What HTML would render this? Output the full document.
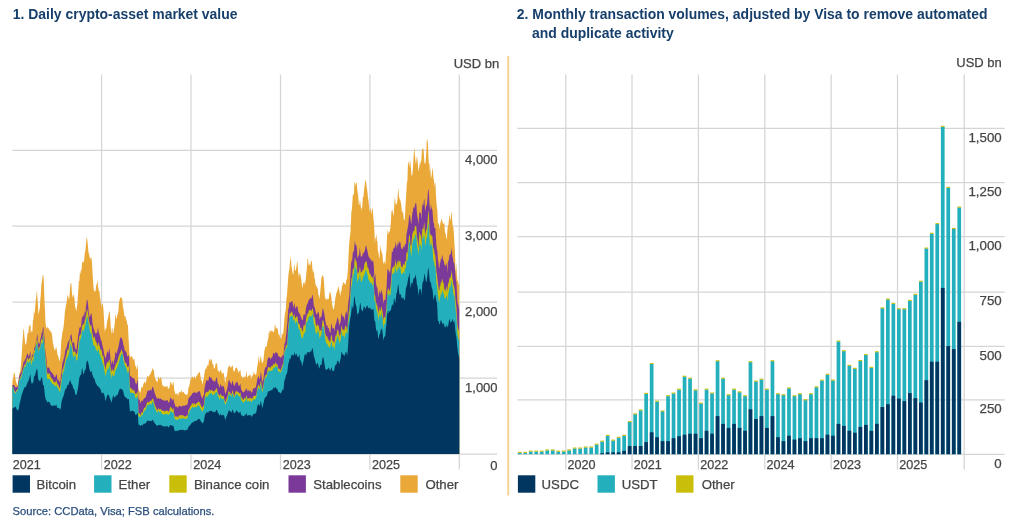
<!DOCTYPE html>
<html><head><meta charset="utf-8"><title>Crypto-asset market value and stablecoin transaction volumes</title>
<style>
html,body{margin:0;padding:0;background:#fff;}
body{width:1024px;height:521px;overflow:hidden;}
svg{display:block;font-family:"Liberation Sans",Arial,Helvetica,sans-serif;}
</style></head><body>
<svg width="1024" height="521" viewBox="0 0 1024 521">
<line x1="101.6" y1="74.5" x2="101.6" y2="469.5" stroke="#d5d5d5" stroke-width="1.25"/>
<line x1="191.0" y1="74.5" x2="191.0" y2="469.5" stroke="#d5d5d5" stroke-width="1.25"/>
<line x1="280.5" y1="74.5" x2="280.5" y2="469.5" stroke="#d5d5d5" stroke-width="1.25"/>
<line x1="369.9" y1="74.5" x2="369.9" y2="469.5" stroke="#d5d5d5" stroke-width="1.25"/>
<line x1="459.3" y1="74.5" x2="459.3" y2="469.5" stroke="#d5d5d5" stroke-width="1.25"/>
<line x1="12.4" y1="150.3" x2="497" y2="150.3" stroke="#d5d5d5" stroke-width="1.25"/>
<line x1="12.4" y1="226.2" x2="497" y2="226.2" stroke="#d5d5d5" stroke-width="1.25"/>
<line x1="12.4" y1="302.2" x2="497" y2="302.2" stroke="#d5d5d5" stroke-width="1.25"/>
<line x1="12.4" y1="378.2" x2="497" y2="378.2" stroke="#d5d5d5" stroke-width="1.25"/>
<line x1="12.4" y1="454.1" x2="497" y2="454.1" stroke="#d5d5d5" stroke-width="1.25"/>
<path d="M12.4 454L12.4 380.7L12.9 379.6L13.4 377.5L13.9 372.6L14.4 373.1L14.9 374.6L15.4 378.7L15.9 381.6L16.4 382.6L16.9 384.4L17.4 385.4L17.9 383.6L18.4 380.5L18.9 377.2L19.4 373.8L19.9 372.3L20.4 370.2L20.9 364.5L21.4 359.2L21.9 352.1L22.4 343.9L22.9 336.5L23.4 329.3L23.9 329.2L24.4 336L24.9 340.9L25.4 344.9L25.9 344.3L26.4 342.9L26.9 338.5L27.4 334.1L27.9 332.6L28.4 333.6L28.9 326.2L29.4 326.1L29.9 325.1L30.4 324.3L30.9 333.6L31.4 329.9L31.9 332.5L32.4 331.2L32.9 320.5L33.4 319.4L33.9 310.3L34.4 314.7L34.9 310.8L35.4 304.8L35.9 298.9L36.4 295.3L36.9 290L37.4 297.4L37.9 303.8L38.4 314.3L38.9 312.6L39.4 310.2L39.9 306.9L40.4 298.9L40.9 292.9L41.4 284.8L41.9 281L42.4 278.1L42.9 275.1L43.4 275L43.9 283.6L44.4 299L44.9 308.7L45.4 321L45.9 325.9L46.4 327.9L46.9 328.6L47.4 326.6L47.9 327.7L48.4 328.8L48.9 328.2L49.4 330.1L49.9 330.9L50.4 332.4L50.9 329.9L51.4 332.8L51.9 333.9L52.4 338.1L52.9 343.2L53.4 344.6L53.9 348.1L54.4 348.9L54.9 350.7L55.4 350L55.9 346.9L56.4 347.5L56.9 350.4L57.4 354.2L57.9 355.3L58.4 356.9L58.9 359.3L59.4 361L59.9 360.2L60.4 356.1L60.9 348.4L61.4 339.6L61.9 337L62.4 331.4L62.9 331L63.4 327.9L63.9 323.6L64.4 318.2L64.9 311.6L65.4 308.9L65.9 305.8L66.4 303.4L66.9 299.8L67.4 295.4L67.9 295.2L68.4 297.3L68.9 300.6L69.4 297.2L69.9 290.8L70.4 285.1L70.9 282.4L71.4 283.8L71.9 292.5L72.4 298L72.9 295.8L73.4 293.7L73.9 296.6L74.4 298L74.9 304.5L75.4 307.8L75.9 309.2L76.4 311.7L76.9 306.7L77.4 303.8L77.9 295.9L78.4 288.7L78.9 280.8L79.4 280.9L79.9 272.5L80.4 274.2L80.9 269.7L81.4 271.5L81.9 264.9L82.4 260.5L82.9 262.7L83.4 262.4L83.9 261.6L84.4 257.6L84.9 252L85.4 251L85.9 244.4L86.4 239L86.9 237.6L87.4 241.1L87.9 246L88.4 252L88.9 253.7L89.4 255.7L89.9 257.9L90.4 257.9L90.9 259.5L91.4 256.7L91.9 261.8L92.4 269.5L92.9 278.5L93.4 286.5L93.9 290.1L94.4 291.3L94.9 291.8L95.4 291.3L95.9 288.3L96.4 284.6L96.9 283.9L97.4 279.6L97.9 285.1L98.4 289.3L98.9 290.9L99.4 291.1L99.9 296.6L100.4 299.6L100.9 303.6L101.4 307.8L101.9 304.5L102.4 303L102.9 305.1L103.4 308.8L103.9 317.1L104.4 326.8L104.9 332.3L105.4 328.4L105.9 329L106.4 327.6L106.9 323.1L107.4 320.5L107.9 318.3L108.4 316L108.9 313.1L109.4 310.8L109.9 313.6L110.4 321.5L110.9 329.6L111.4 334.6L111.9 328.1L112.4 328.5L112.9 333.3L113.4 333.6L113.9 328.7L114.4 325.9L114.9 322L115.4 314.7L115.9 315.6L116.4 319.6L116.9 317.3L117.4 314.8L117.9 313.5L118.4 310.9L118.9 303.3L119.4 300.8L119.9 298.7L120.4 297.8L120.9 296.9L121.4 297.9L121.9 298L122.4 300.5L122.9 306.7L123.4 308.4L123.9 312.3L124.4 316.4L124.9 316L125.4 316.2L125.9 318.9L126.4 319.7L126.9 322L127.4 325.2L127.9 324.3L128.4 335.7L128.9 343.7L129.4 352.7L129.9 357.6L130.4 357.4L130.9 356L131.4 355.9L131.9 356.5L132.4 357.1L132.9 359.5L133.4 359.8L133.9 358.6L134.4 359L134.9 363.2L135.4 366.9L135.9 365.3L136.4 369.8L136.9 368.7L137.4 364.2L137.9 367.8L138.4 388.8L138.9 390.5L139.4 390.9L139.9 392L140.4 393L140.9 389.5L141.4 386.9L141.9 386.9L142.4 387.7L142.9 386.3L143.4 384.3L143.9 382.9L144.4 380.9L144.9 383L145.4 383.4L145.9 381.9L146.4 379.8L146.9 377.4L147.4 375.4L147.9 376.2L148.4 377L148.9 376.6L149.4 375.6L149.9 374.5L150.4 373.6L150.9 373.6L151.4 371.1L151.9 370.7L152.4 368.2L152.9 368.4L153.4 369.7L153.9 371.1L154.4 375.4L154.9 377.7L155.4 379.1L155.9 380.2L156.4 380.8L156.9 381.7L157.4 382.5L157.9 379.6L158.4 375.7L158.9 378.3L159.4 379.1L159.9 378.9L160.4 376.7L160.9 377.9L161.4 378.6L161.9 383L162.4 385.5L162.9 385.4L163.4 385.7L163.9 387.1L164.4 386.3L164.9 386.7L165.4 386.4L165.9 386.6L166.4 386.5L166.9 386.3L167.4 386.1L167.9 388.5L168.4 389.3L168.9 387.7L169.4 387.7L169.9 385.1L170.4 381.6L170.9 382.3L171.4 383.3L171.9 385.3L172.4 385.4L172.9 382.2L173.4 381.4L173.9 385.4L174.4 391L174.9 391.7L175.4 394.5L175.9 394.1L176.4 393.7L176.9 393.5L177.4 393.3L177.9 396L178.4 395.1L178.9 392.1L179.4 392L179.9 392.9L180.4 392.3L180.9 391.2L181.4 389.8L181.9 392.1L182.4 392.5L182.9 392.5L183.4 391.8L183.9 392.1L184.4 393.8L184.9 394L185.4 394.3L185.9 395.1L186.4 394.7L186.9 394.2L187.4 395.5L187.9 392.2L188.4 388.1L188.9 386.8L189.4 385.4L189.9 383.3L190.4 379.9L190.9 379.2L191.4 377.1L191.9 378L192.4 376.5L192.9 377.1L193.4 378.5L193.9 377.1L194.4 375.7L194.9 377.8L195.4 379L195.9 377.8L196.4 375.5L196.9 375.9L197.4 375L197.9 373.4L198.4 373.2L198.9 373.1L199.4 372.1L199.9 372.1L200.4 375.4L200.9 378.9L201.4 380.8L201.9 380.8L202.4 384.8L202.9 382.6L203.4 379.4L203.9 378.4L204.4 373.3L204.9 370.9L205.4 369.1L205.9 368.3L206.4 368.7L206.9 366.3L207.4 364.5L207.9 366.4L208.4 365.3L208.9 361.3L209.4 359.3L209.9 359.1L210.4 362.3L210.9 359.1L211.4 359.3L211.9 360.2L212.4 364.3L212.9 364.1L213.4 364.9L213.9 368.8L214.4 368.4L214.9 367.9L215.4 365.1L215.9 362.9L216.4 363.9L216.9 362.6L217.4 367.5L217.9 371.2L218.4 370.2L218.9 371.8L219.4 371.4L219.9 372.3L220.4 370L220.9 369.6L221.4 372.1L221.9 373.5L222.4 373.8L222.9 372.4L223.4 372.6L223.9 374.4L224.4 377.7L224.9 381.1L225.4 383.5L225.9 378L226.4 377.3L226.9 375.9L227.4 372L227.9 368.1L228.4 366.7L228.9 366.7L229.4 364.4L229.9 367.1L230.4 366.4L230.9 368.4L231.4 366.5L231.9 366.8L232.4 365L232.9 366.4L233.4 370.5L233.9 371.8L234.4 371.6L234.9 370.4L235.4 368L235.9 368L236.4 367.4L236.9 367.5L237.4 368.9L237.9 371.6L238.4 373.4L238.9 369.9L239.4 371.5L239.9 371.1L240.4 369.6L240.9 375L241.4 375.8L241.9 376.8L242.4 377.2L242.9 378.2L243.4 376L243.9 378L244.4 377.5L244.9 376.2L245.4 376.9L245.9 374.9L246.4 370.2L246.9 375.2L247.4 378.1L247.9 377L248.4 375.2L248.9 375.9L249.4 375.3L249.9 374.8L250.4 374.4L250.9 377.1L251.4 379.4L251.9 375.5L252.4 376.8L252.9 374.4L253.4 374.3L253.9 370.8L254.4 373.9L254.9 373.4L255.4 375L255.9 375.3L256.4 373.8L256.9 370.1L257.4 365.6L257.9 363.5L258.4 359L258.9 355.5L259.4 363L259.9 361L260.4 357.5L260.9 355.8L261.4 359.4L261.9 363.6L262.4 362L262.9 362.6L263.4 360.5L263.9 355.2L264.4 350.6L264.9 349.2L265.4 346.3L265.9 346.4L266.4 347L266.9 345.4L267.4 342.3L267.9 339.2L268.4 337.5L268.9 331.3L269.4 331.3L269.9 333.9L270.4 330.8L270.9 330L271.4 331L271.9 330.9L272.4 330.8L272.9 331.6L273.4 332.5L273.9 332.3L274.4 329.4L274.9 324.8L275.4 324.7L275.9 329.4L276.4 327.1L276.9 328.4L277.4 328.4L277.9 329.5L278.4 334L278.9 334.9L279.4 334.2L279.9 337.2L280.4 338.6L280.9 338.2L281.4 338.6L281.9 333.2L282.4 333.8L282.9 335L283.4 331.5L283.9 325.2L284.4 318.8L284.9 313.9L285.4 311.8L285.9 308.2L286.4 298.8L286.9 295.4L287.4 289L287.9 281.7L288.4 275.6L288.9 271.6L289.4 269.3L289.9 262.6L290.4 259.7L290.9 255.8L291.4 266.1L291.9 268.2L292.4 272.3L292.9 274.6L293.4 274.3L293.9 267.8L294.4 263.1L294.9 270L295.4 270.6L295.9 270.5L296.4 267.1L296.9 263.3L297.4 260.4L297.9 268.2L298.4 278.2L298.9 272.1L299.4 275.7L299.9 272.5L300.4 274.9L300.9 277.7L301.4 280L301.9 285.5L302.4 288.5L302.9 284.9L303.4 282.7L303.9 282.7L304.4 282.1L304.9 285.3L305.4 280.9L305.9 278L306.4 272.8L306.9 267.5L307.4 259.9L307.9 257.6L308.4 263.5L308.9 265.9L309.4 262.6L309.9 266L310.4 264.9L310.9 262.3L311.4 261L311.9 260.8L312.4 268.7L312.9 272.2L313.4 273L313.9 269L314.4 278.7L314.9 278.3L315.4 284.2L315.9 284.7L316.4 287.1L316.9 286.6L317.4 287.9L317.9 289L318.4 294.7L318.9 295.8L319.4 299.1L319.9 295L320.4 289.7L320.9 284.4L321.4 277.8L321.9 277.3L322.4 275.6L322.9 275.4L323.4 276.1L323.9 280.9L324.4 288.8L324.9 296.7L325.4 298.3L325.9 299.7L326.4 299.6L326.9 299.1L327.4 297.9L327.9 300L328.4 299.6L328.9 297.6L329.4 293.6L329.9 291.9L330.4 292.2L330.9 294.4L331.4 297.7L331.9 302.4L332.4 305.4L332.9 308.3L333.4 309.3L333.9 309L334.4 305.6L334.9 302.6L335.4 297.4L335.9 296L336.4 292.5L336.9 292.5L337.4 290L337.9 288.7L338.4 285.2L338.9 289.1L339.4 290.8L339.9 294.3L340.4 296.2L340.9 290.3L341.4 292.4L341.9 285.3L342.4 286.5L342.9 283.2L343.4 281.7L343.9 283.2L344.4 283.2L344.9 284.4L345.4 284.4L345.9 283.1L346.4 278.7L346.9 280.2L347.4 275.7L347.9 269.2L348.4 258.5L348.9 247.9L349.4 241L349.9 236.7L350.4 233.1L350.9 222.2L351.4 211.6L351.9 209.6L352.4 201.5L352.9 194L353.4 193.9L353.9 196.1L354.4 181.6L354.9 182.6L355.4 186.6L355.9 183.8L356.4 182.8L356.9 183.6L357.4 195.8L357.9 188.9L358.4 200.1L358.9 205.2L359.4 204.4L359.9 199.7L360.4 202.6L360.9 208.1L361.4 207.5L361.9 211.3L362.4 204.2L362.9 196.2L363.4 197.8L363.9 191.4L364.4 187.4L364.9 184.3L365.4 179.5L365.9 181.2L366.4 184L366.9 188.2L367.4 191.4L367.9 196.9L368.4 200L368.9 205L369.4 210.1L369.9 211.9L370.4 209.1L370.9 208L371.4 212.4L371.9 214.4L372.4 207.2L372.9 209.3L373.4 218.5L373.9 222.9L374.4 230.7L374.9 244L375.4 237.7L375.9 237.7L376.4 233.3L376.9 240.7L377.4 241.1L377.9 251.4L378.4 252L378.9 256.7L379.4 259.1L379.9 251.2L380.4 244.6L380.9 249.7L381.4 251.6L381.9 253.1L382.4 254.5L382.9 260.3L383.4 264.6L383.9 261.8L384.4 260.9L384.9 263.9L385.4 263.1L385.9 255.2L386.4 251L386.9 240.6L387.4 228.5L387.9 234.8L388.4 233.5L388.9 231.1L389.4 232.7L389.9 230.3L390.4 227.6L390.9 221L391.4 211.7L391.9 210.7L392.4 209.2L392.9 213.4L393.4 216.2L393.9 211.6L394.4 202.6L394.9 196.8L395.4 201.8L395.9 205.2L396.4 202.9L396.9 204.7L397.4 200L397.9 192.6L398.4 187.4L398.9 195.4L399.4 198.6L399.9 199.4L400.4 200.6L400.9 203.1L401.4 205.9L401.9 212.5L402.4 212.8L402.9 209.5L403.4 215L403.9 219.7L404.4 220.3L404.9 218.6L405.4 206.9L405.9 198.4L406.4 191.5L406.9 182.1L407.4 181.2L407.9 164.7L408.4 161.5L408.9 163.5L409.4 167.7L409.9 159.9L410.4 162.1L410.9 168.1L411.4 174.7L411.9 175.9L412.4 174.2L412.9 168.8L413.4 160L413.9 152.8L414.4 147.3L414.9 154.8L415.4 159.9L415.9 164.2L416.4 160.4L416.9 155.6L417.4 158.9L417.9 165.1L418.4 171.2L418.9 169.6L419.4 161.5L419.9 168.5L420.4 161.2L420.9 163.1L421.4 159L421.9 151L422.4 148L422.9 149L423.4 148.5L423.9 154.6L424.4 163.1L424.9 163.6L425.4 163.6L425.9 158.2L426.4 149.6L426.9 139L427.4 140.3L427.9 143.1L428.4 155.8L428.9 165.1L429.4 162.4L429.9 173.1L430.4 166.4L430.9 178.6L431.4 177.1L431.9 173.3L432.4 167.3L432.9 170.7L433.4 178L433.9 180.1L434.4 186.7L434.9 182.5L435.4 183.1L435.9 193.6L436.4 202.1L436.9 207.3L437.4 211.1L437.9 223.3L438.4 223.2L438.9 223.9L439.4 228.7L439.9 227L440.4 222.6L440.9 221.6L441.4 219.4L441.9 218.7L442.4 221.6L442.9 223.7L443.4 224.2L443.9 223.1L444.4 222.4L444.9 232L445.4 233.2L445.9 234.9L446.4 239.2L446.9 238.4L447.4 230.1L447.9 225.6L448.4 224.9L448.9 220.1L449.4 215.7L449.9 215.4L450.4 221L450.9 218.9L451.4 211.6L451.9 214L452.4 223.2L452.9 226.8L453.4 227.5L453.9 233.7L454.4 243.4L454.9 250.5L455.4 267L455.9 272L456.4 261.8L456.9 275L457.4 279.4L457.9 281.6L458.4 282.7L458.9 284.9L459.2 285.2L459.2 454Z" fill="#e9a838"/>
<path d="M12.4 454L12.4 385L12.9 384.9L13.4 384.8L13.9 385.1L14.4 385.5L14.9 386.5L15.4 387.5L15.9 387.5L16.4 387L16.9 386.7L17.4 387.7L17.9 385.1L18.4 382L18.9 378.7L19.4 375.3L19.9 375L20.4 373.6L20.9 372.5L21.4 371.9L21.9 369.3L22.4 367.4L22.9 365.4L23.4 362.5L23.9 361.3L24.4 361.4L24.9 359.3L25.4 359.5L25.9 357.9L26.4 356.3L26.9 354.5L27.4 353.5L27.9 353.8L28.4 356.5L28.9 356L29.4 355.3L29.9 353L30.4 351.1L30.9 356.8L31.4 359.6L31.9 355.1L32.4 353.3L32.9 356.5L33.4 353.4L33.9 350.8L34.4 346.1L34.9 348.2L35.4 345.8L35.9 342L36.4 340.1L36.9 336.9L37.4 333.6L37.9 340.1L38.4 344L38.9 342.6L39.4 344.6L39.9 341.5L40.4 338.8L40.9 337.4L41.4 334.3L41.9 331.9L42.4 332.8L42.9 327.5L43.4 326.9L43.9 332.1L44.4 336.8L44.9 345L45.4 351.6L45.9 355L46.4 359.1L46.9 365.4L47.4 367.5L47.9 368.2L48.4 367.3L48.9 367.4L49.4 368.1L49.9 370L50.4 371.1L50.9 371.5L51.4 372.2L51.9 372.8L52.4 373.2L52.9 374L53.4 374.7L53.9 375.4L54.4 376.9L54.9 377.2L55.4 377L55.9 374.7L56.4 374.3L56.9 375.8L57.4 379.5L57.9 379.7L58.4 379.6L58.9 380.7L59.4 382.3L59.9 381.4L60.4 380.4L60.9 375L61.4 373L61.9 368.3L62.4 362.6L62.9 361.8L63.4 359.9L63.9 357.8L64.4 356.6L64.9 353.1L65.4 349.6L65.9 349.4L66.4 347.8L66.9 346.1L67.4 343.9L67.9 342.5L68.4 341.4L68.9 340.7L69.4 339.5L69.9 338.5L70.4 336.1L70.9 334.7L71.4 333.7L71.9 337.7L72.4 343L72.9 343.3L73.4 342.8L73.9 341.2L74.4 343.9L74.9 347.6L75.4 348.5L75.9 350.1L76.4 350.1L76.9 345.2L77.4 341.9L77.9 338.2L78.4 333.8L78.9 331.8L79.4 327.1L79.9 328.3L80.4 327.1L80.9 327L81.4 323.1L81.9 317.8L82.4 317L82.9 315.9L83.4 314L83.9 317.7L84.4 313.6L84.9 311.4L85.4 312.7L85.9 307.2L86.4 304.4L86.9 299.4L87.4 299.9L87.9 302.6L88.4 309.1L88.9 313.6L89.4 316.8L89.9 317.1L90.4 315.5L90.9 313.5L91.4 313.3L91.9 316.5L92.4 322.5L92.9 325L93.4 327.8L93.9 329.1L94.4 330.8L94.9 332.6L95.4 333.2L95.9 333.8L96.4 333.6L96.9 332.3L97.4 332.3L97.9 326.5L98.4 330.4L98.9 332.9L99.4 334.5L99.9 336.3L100.4 337.5L100.9 340.9L101.4 339.9L101.9 342.8L102.4 345.3L102.9 347.2L103.4 349.3L103.9 352.3L104.4 355.3L104.9 356.4L105.4 359L105.9 357L106.4 354.9L106.9 352.9L107.4 351.7L107.9 351.2L108.4 353.9L108.9 350.3L109.4 347.9L109.9 352.2L110.4 358L110.9 361.6L111.4 365L111.9 361.2L112.4 360.1L112.9 363.1L113.4 364.4L113.9 360.9L114.4 359.4L114.9 356.8L115.4 351.5L115.9 352.5L116.4 353.7L116.9 352.4L117.4 350.8L117.9 349L118.4 347.1L118.9 344.5L119.4 342.1L119.9 339.1L120.4 337.9L120.9 337.3L121.4 337.6L121.9 338.5L122.4 339.9L122.9 341.7L123.4 345.4L123.9 346L124.4 349.4L124.9 350.5L125.4 351.2L125.9 351.6L126.4 352.6L126.9 354.8L127.4 356.7L127.9 356.2L128.4 355.3L128.9 355.6L129.4 366.9L129.9 375.2L130.4 376.3L130.9 375.9L131.4 376.7L131.9 377.2L132.4 377.8L132.9 378.2L133.4 378.4L133.9 378.1L134.4 378.3L134.9 380.6L135.4 382.8L135.9 383.7L136.4 384.5L136.9 382.3L137.4 379.5L137.9 382.3L138.4 398.6L138.9 399.9L139.4 398.9L139.9 401.2L140.4 403.5L140.9 401.9L141.4 400.5L141.9 400.6L142.4 401.2L142.9 400.4L143.4 399.2L143.9 398.6L144.4 398L144.9 398.3L145.4 397.4L145.9 396.4L146.4 394.7L146.9 392.9L147.4 391.1L147.9 390.8L148.4 390.6L148.9 390.7L149.4 390.8L149.9 390.1L150.4 389.2L150.9 390.1L151.4 391.1L151.9 388.8L152.4 386.8L152.9 386.9L153.4 388L153.9 390L154.4 392L154.9 393.8L155.4 394.7L155.9 396.3L156.4 397.4L156.9 398.3L157.4 399.1L157.9 398.2L158.4 397.4L158.9 398.4L159.4 398.8L159.9 399L160.4 398.3L160.9 398.7L161.4 399.1L161.9 399.8L162.4 400.4L162.9 399.8L163.4 399.7L163.9 400.4L164.4 401L164.9 400.8L165.4 400.6L165.9 400.6L166.4 400.4L166.9 399.9L167.4 400L167.9 401.4L168.4 402.4L168.9 402.3L169.4 402.3L169.9 399.2L170.4 396.9L170.9 398.4L171.4 398.4L171.9 399.4L172.4 400.7L172.9 399.1L173.4 398.5L173.9 400.8L174.4 403.5L174.9 404.6L175.4 406.7L175.9 406.6L176.4 406.4L176.9 406.8L177.4 407.1L177.9 407.8L178.4 406.9L178.9 405.6L179.4 405.9L179.9 406.1L180.4 406.2L180.9 406.2L181.4 406.2L181.9 406.7L182.4 406.2L182.9 405.6L183.4 405.4L183.9 405.7L184.4 406L184.9 405.5L185.4 404.9L185.9 405.6L186.4 405.1L186.9 404.5L187.4 404.7L187.9 402L188.4 398.8L188.9 398.2L189.4 397.2L189.9 396.4L190.4 396.3L190.9 395.8L191.4 395.2L191.9 394.1L192.4 392.9L192.9 393L193.4 393.3L193.9 392.6L194.4 391.8L194.9 392.4L195.4 392.7L195.9 392.7L196.4 392.9L196.9 392.7L197.4 392.5L197.9 391.6L198.4 391.7L198.9 391.3L199.4 390.7L199.9 391.8L200.4 393L200.9 395.6L201.4 396.6L201.9 397.4L202.4 399L202.9 397.1L203.4 395.5L203.9 394.9L204.4 389.2L204.9 386L205.4 383.7L205.9 382.2L206.4 380.5L206.9 379.9L207.4 380L207.9 381.3L208.4 380.7L208.9 377.8L209.4 376.1L209.9 377.1L210.4 378.2L210.9 377.1L211.4 378.1L211.9 378.8L212.4 380.4L212.9 380.4L213.4 380.6L213.9 381.8L214.4 381.6L214.9 381.2L215.4 381.4L215.9 379.3L216.4 377.2L216.9 377.9L217.4 380.9L217.9 383.9L218.4 383.6L218.9 385.7L219.4 388L219.9 386.3L220.4 384.3L220.9 384.2L221.4 386.2L221.9 386.8L222.4 386.6L222.9 385.7L223.4 385.9L223.9 387.1L224.4 388.9L224.9 391.9L225.4 394.3L225.9 392.7L226.4 390.9L226.9 389.9L227.4 387.8L227.9 384.9L228.4 381.5L228.9 380.2L229.4 380.3L229.9 381.5L230.4 382.6L230.9 383.8L231.4 384.9L231.9 382.8L232.4 380.5L232.9 381.5L233.4 383.9L233.9 385.2L234.4 386.3L234.9 384.9L235.4 383.4L235.9 382.8L236.4 382L236.9 382.3L237.4 381.4L237.9 383.5L238.4 385.6L238.9 385.8L239.4 386L239.9 384.4L240.4 383.4L240.9 388.1L241.4 390L241.9 390.6L242.4 391.6L242.9 392.2L243.4 392.4L243.9 392.1L244.4 391.8L244.9 390.6L245.4 390.5L245.9 389.1L246.4 387.9L246.9 389.7L247.4 391.5L247.9 390.3L248.4 389.5L248.9 391.2L249.4 391.2L249.9 390.4L250.4 390.4L250.9 391.5L251.4 392.7L251.9 392.4L252.4 391.4L252.9 389.1L253.4 388.3L253.9 388.2L254.4 388.5L254.9 388L255.4 387.4L255.9 386.9L256.4 384.8L256.9 381.4L257.4 378.7L257.9 377.2L258.4 375.8L258.9 377.3L259.4 379.2L259.9 378.4L260.4 374.9L260.9 371.5L261.4 375.1L261.9 380.2L262.4 382.5L262.9 380.6L263.4 378.7L263.9 374.2L264.4 369.7L264.9 368.9L265.4 367.3L265.9 367.2L266.4 367L266.9 364.8L267.4 360.4L267.9 358.2L268.4 357.7L268.9 357.3L269.4 357L269.9 358.3L270.4 359.3L270.9 359L271.4 357.8L271.9 357.3L272.4 356.9L272.9 354.8L273.4 352.6L273.9 353.2L274.4 354.4L274.9 353.2L275.4 351.7L275.9 353.2L276.4 352.2L276.9 353.2L277.4 352.8L277.9 354.7L278.4 356.5L278.9 355.5L279.4 357.5L279.9 356.2L280.4 357.8L280.9 357.6L281.4 357.3L281.9 356.4L282.4 355.5L282.9 355L283.4 355.9L283.9 350L284.4 344L284.9 342.9L285.4 341.6L285.9 336.5L286.4 332.9L286.9 325.8L287.4 322L287.9 314.7L288.4 308.2L288.9 307.8L289.4 301.8L289.9 302L290.4 303L290.9 302.3L291.4 301.2L291.9 301.6L292.4 300.7L292.9 304.4L293.4 308L293.9 305.5L294.4 303L294.9 306.3L295.4 309L295.9 307.7L296.4 306.4L296.9 306.3L297.4 306.2L297.9 309.3L298.4 312.3L298.9 312.2L299.4 314.1L299.9 313.3L300.4 316.1L300.9 317.1L301.4 318L301.9 319.8L302.4 320.1L302.9 320.3L303.4 315.1L303.9 314.4L304.4 314.3L304.9 315.5L305.4 313.8L305.9 308.8L306.4 306.4L306.9 304.4L307.4 303.4L307.9 303.1L308.4 301.1L308.9 299.6L309.4 300L309.9 298.5L310.4 298L310.9 298.3L311.4 298.9L311.9 296.4L312.4 294.2L312.9 296.4L313.4 301.3L313.9 306.5L314.4 306.7L314.9 308.1L315.4 310.8L315.9 313L316.4 314.3L316.9 314.7L317.4 313.3L317.9 311.7L318.4 311.9L318.9 314L319.4 318.1L319.9 319.8L320.4 316.9L320.9 316.7L321.4 317.1L321.9 314.6L322.4 310L322.9 308.1L323.4 310L323.9 312.1L324.4 314.5L324.9 318.1L325.4 321.2L325.9 323.3L326.4 325.9L326.9 325.8L327.4 325.1L327.9 328.4L328.4 327.7L328.9 328.3L329.4 331.3L329.9 332.6L330.4 333.2L330.9 327.3L331.4 323L331.9 324.9L332.4 328.7L332.9 328.4L333.4 328L333.9 328.3L334.4 331.7L334.9 327.8L335.4 324.9L335.9 323.7L336.4 322.5L336.9 320L337.4 316.7L337.9 318.7L338.4 319.7L338.9 323L339.4 326.3L339.9 323.4L340.4 322.5L340.9 319.6L341.4 313L341.9 314.3L342.4 315.8L342.9 316.8L343.4 316.3L343.9 317.5L344.4 320.7L344.9 317.5L345.4 314L345.9 312.2L346.4 311.1L346.9 313.8L347.4 314.4L347.9 306.8L348.4 302.1L348.9 298.4L349.4 295L349.9 285.1L350.4 274.9L350.9 265.8L351.4 260.1L351.9 261.9L352.4 257.9L352.9 251.4L353.4 250.7L353.9 253.2L354.4 245.3L354.9 240.5L355.4 244L355.9 245.8L356.4 245L356.9 248.7L357.4 258.3L357.9 257.6L358.4 255.2L358.9 255.9L359.4 251.3L359.9 247.5L360.4 252.8L360.9 257.2L361.4 255.7L361.9 256.9L362.4 255.4L362.9 252.4L363.4 253.5L363.9 253L364.4 251.1L364.9 250.4L365.4 247L365.9 245.5L366.4 246.4L366.9 248.8L367.4 251.1L367.9 253.1L368.4 256L368.9 257.1L369.4 257.6L369.9 258.5L370.4 259L370.9 260.2L371.4 261.5L371.9 259.5L372.4 260.8L372.9 262.2L373.4 261.1L373.9 268L374.4 277.7L374.9 276.6L375.4 273.6L375.9 282.9L376.4 285.5L376.9 287.6L377.4 287.6L377.9 292.7L378.4 297.8L378.9 293.8L379.4 289.6L379.9 293.6L380.4 293.4L380.9 291.4L381.4 289.4L381.9 292L382.4 293.5L382.9 297.5L383.4 303.8L383.9 300.6L384.4 299.4L384.9 300.4L385.4 299.4L385.9 293.5L386.4 289.7L386.9 280.7L387.4 268.4L387.9 269.6L388.4 271.2L388.9 269.8L389.4 272.2L389.9 273.1L390.4 270.1L390.9 266.6L391.4 260.2L391.9 250.9L392.4 251.7L392.9 252.1L393.4 247.9L393.9 248.7L394.4 247.7L394.9 246.8L395.4 240.9L395.9 246.2L396.4 244.8L396.9 249.2L397.4 244L397.9 242.9L398.4 245.3L398.9 240.2L399.4 242.5L399.9 242.7L400.4 242L400.9 246.5L401.4 248.9L401.9 248.5L402.4 249.7L402.9 247.3L403.4 245.8L403.9 247.4L404.4 247.5L404.9 244.1L405.4 243.7L405.9 245L406.4 234.7L406.9 232L407.4 229.9L407.9 227.1L408.4 224.1L408.9 218.4L409.4 215.3L409.9 215L410.4 219.2L410.9 222.2L411.4 224.2L411.9 217.1L412.4 213L412.9 211.2L413.4 207.1L413.9 207.8L414.4 208.6L414.9 205L415.4 204L415.9 202.5L416.4 204.7L416.9 213.1L417.4 216.8L417.9 219.3L418.4 224.3L418.9 218.4L419.4 212.5L419.9 211.8L420.4 212.9L420.9 212.9L421.4 219.8L421.9 210.2L422.4 203.4L422.9 206L423.4 204.7L423.9 200.2L424.4 198.7L424.9 208.5L425.4 211.3L425.9 206.8L426.4 205.2L426.9 205.5L427.4 200L427.9 192.2L428.4 188.5L428.9 193.2L429.4 203.1L429.9 209.4L430.4 209.9L430.9 204L431.4 207.2L431.9 208.7L432.4 210L432.9 216.1L433.4 223L433.9 222.8L434.4 228.1L434.9 228.1L435.4 227.9L435.9 237.6L436.4 245.3L436.9 249.6L437.4 251.7L437.9 259.4L438.4 261.8L438.9 267L439.4 268.9L439.9 262.6L440.4 262.6L440.9 257.9L441.4 260.1L441.9 256.3L442.4 254.8L442.9 258.7L443.4 260.6L443.9 260.9L444.4 264.9L444.9 264.8L445.4 264.8L445.9 267.4L446.4 263.2L446.9 263.4L447.4 273.3L447.9 262.5L448.4 260.7L448.9 259.2L449.4 254.8L449.9 254.9L450.4 254.2L450.9 253.1L451.4 250.5L451.9 247.6L452.4 257L452.9 257.3L453.4 262.8L453.9 262.1L454.4 264.1L454.9 268.6L455.4 274.8L455.9 280L456.4 282.3L456.9 291.1L457.4 301.4L457.9 303.8L458.4 305.1L458.9 308.4L459.2 309.2L459.2 454Z" fill="#7b3a9a"/>
<path d="M12.4 454L12.4 386.1L12.9 386.6L13.4 387L13.9 388.7L14.4 390.5L14.9 391.2L15.4 392.3L15.9 391.8L16.4 390.3L16.9 389.6L17.4 389.9L17.9 388L18.4 385.5L18.9 382.3L19.4 378.9L19.9 378L20.4 377.3L20.9 375.8L21.4 375.3L21.9 373.1L22.4 371.3L22.9 369.7L23.4 368.2L23.9 366.6L24.4 365.1L24.9 364.4L25.4 364.6L25.9 362.6L26.4 360.7L26.9 358.8L27.4 357.8L27.9 357.8L28.4 359.9L28.9 359.2L29.4 358.5L29.9 357L30.4 355.2L30.9 359.8L31.4 361.1L31.9 357.9L32.4 356.4L32.9 357.7L33.4 354.2L33.9 351.6L34.4 350.1L34.9 350.6L35.4 347.6L35.9 344.2L36.4 340.9L36.9 339.2L37.4 339.6L37.9 346.3L38.4 350.7L38.9 345.9L39.4 346.9L39.9 348.3L40.4 344.1L40.9 340.5L41.4 338.7L41.9 339.8L42.4 340.6L42.9 334.5L43.4 330.4L43.9 338.4L44.4 344L44.9 347L45.4 355.6L45.9 361.1L46.4 365.2L46.9 371.7L47.4 373.3L47.9 374L48.4 373.5L48.9 373.7L49.4 372.9L49.9 374.3L50.4 376.5L50.9 377.3L51.4 377.9L51.9 378.6L52.4 379.2L52.9 380.1L53.4 380.9L53.9 382.5L54.4 382.1L54.9 381.9L55.4 382.5L55.9 381.2L56.4 379.7L56.9 382.3L57.4 383.8L57.9 384.5L58.4 384.9L58.9 386.4L59.4 388.5L59.9 387.3L60.4 385L60.9 380.7L61.4 379.2L61.9 374.9L62.4 369.6L62.9 369.4L63.4 367.3L63.9 365.3L64.4 363.2L64.9 360.7L65.4 358.2L65.9 356.5L66.4 354.8L66.9 352.5L67.4 348.9L67.9 350L68.4 349.9L68.9 346.6L69.4 341.9L69.9 339.3L70.4 336.9L70.9 340.4L71.4 341.4L71.9 343.7L72.4 346.1L72.9 349.8L73.4 351.8L73.9 352L74.4 351.1L74.9 351.7L75.4 352.2L75.9 354.4L76.4 354.5L76.9 354L77.4 352.4L77.9 347.7L78.4 343L78.9 340.5L79.4 335.3L79.9 335.9L80.4 334.3L80.9 334.2L81.4 330.6L81.9 326.4L82.4 325.2L82.9 324.6L83.4 323.1L83.9 325.8L84.4 322.1L84.9 319.7L85.4 318.4L85.9 315.4L86.4 313.2L86.9 308.4L87.4 310.3L87.9 312.1L88.4 315.4L88.9 320.1L89.4 322.7L89.9 324.4L90.4 325.5L90.9 326L91.4 324.3L91.9 330.5L92.4 333.1L92.9 335.6L93.4 338L93.9 338.1L94.4 335.6L94.9 337.9L95.4 340.2L95.9 341.7L96.4 342.6L96.9 343.3L97.4 346.2L97.9 345.3L98.4 342.1L98.9 343L99.4 346.2L99.9 346.6L100.4 349L100.9 350.3L101.4 349.6L101.9 352L102.4 355.6L102.9 356.4L103.4 355.2L103.9 360L104.4 364.9L104.9 366.3L105.4 369.7L105.9 367.1L106.4 364.3L106.9 363.1L107.4 362.6L107.9 361.4L108.4 362.7L108.9 360.3L109.4 358.9L109.9 361.6L110.4 365.7L110.9 369.2L111.4 372.6L111.9 369.5L112.4 368.6L112.9 370.7L113.4 371.6L113.9 370L114.4 368.4L114.9 366.6L115.4 365.9L115.9 363L116.4 363.4L116.9 362.6L117.4 361.2L117.9 359.2L118.4 357.3L118.9 356L119.4 354.2L119.9 352.8L120.4 352.4L120.9 350.9L121.4 349L121.9 350.4L122.4 351.5L122.9 353.3L123.4 356.1L123.9 357.3L124.4 360.4L124.9 362.2L125.4 363L125.9 362.4L126.4 363.4L126.9 365.6L127.4 367.2L127.9 366.7L128.4 366.1L128.9 366.4L129.4 378.3L129.9 386.8L130.4 388.2L130.9 387.9L131.4 388.5L131.9 389.1L132.4 389.7L132.9 390.6L133.4 390.7L133.9 389.8L134.4 390.4L134.9 392.4L135.4 393.9L135.9 393.9L136.4 393.8L136.9 392.6L137.4 390.8L137.9 394L138.4 412.3L138.9 413.6L139.4 413.2L139.9 414.3L140.4 415.4L140.9 413.9L141.4 412.4L141.9 412.3L142.4 412.9L142.9 411.5L143.4 409.5L143.9 408.6L144.4 407.6L144.9 408.1L145.4 407.3L145.9 406.2L146.4 404.5L146.9 403.1L147.4 401.8L147.9 402.2L148.4 402.5L148.9 402.3L149.4 401.7L149.9 401.2L150.4 400.5L150.9 400.8L151.4 401L151.9 399.6L152.4 398.4L152.9 398.6L153.4 399.7L153.9 401.5L154.4 403.4L154.9 405L155.4 406.4L155.9 407.3L156.4 408.3L156.9 409.5L157.4 410.7L157.9 409.2L158.4 407.8L158.9 408.9L159.4 409.4L159.9 409.3L160.4 408.7L160.9 409.3L161.4 409.9L161.9 410.4L162.4 410.8L162.9 410.5L163.4 410.5L163.9 411.1L164.4 411.5L164.9 411.3L165.4 411.1L165.9 410.8L166.4 410.5L166.9 410.4L167.4 410.4L167.9 411.3L168.4 412.1L168.9 411.3L169.4 410.5L169.9 408.2L170.4 406.4L170.9 407.3L171.4 407.4L171.9 408.6L172.4 409.9L172.9 408.2L173.4 407.7L173.9 411.1L174.4 414.9L174.9 415.9L175.4 416.9L175.9 416.4L176.4 415.9L176.9 416.5L177.4 417L177.9 417.5L178.4 416.5L178.9 415.3L179.4 415.6L179.9 415.4L180.4 415L180.9 415.1L181.4 415.1L181.9 415.4L182.4 415.4L182.9 415.2L183.4 415.2L183.9 415.8L184.4 416.4L184.9 416.4L185.4 416.3L185.9 416.5L186.4 415.7L186.9 415.3L187.4 415.9L187.9 413.4L188.4 410.2L188.9 409.5L189.4 408.7L189.9 407.5L190.4 406.2L190.9 405.6L191.4 405L191.9 404.1L192.4 402.8L192.9 403.3L193.4 404.7L193.9 403.7L194.4 402.7L194.9 403.8L195.4 404.4L195.9 404L196.4 403.5L196.9 403.1L197.4 402.7L197.9 401.8L198.4 401.6L198.9 401.8L199.4 401.9L199.9 403L200.4 404.1L200.9 405.6L201.4 406.4L201.9 406.9L202.4 408.1L202.9 406.9L203.4 405.6L203.9 404.8L204.4 399.6L204.9 395.7L205.4 393.3L205.9 392.4L206.4 392.2L206.9 391.8L207.4 391.7L207.9 392.3L208.4 391.8L208.9 390.1L209.4 389.3L209.9 390.3L210.4 391.2L210.9 389.6L211.4 389.9L211.9 390.3L212.4 390.8L212.9 390.9L213.4 391.2L213.9 391.6L214.4 391.3L214.9 390.3L215.4 390L215.9 389L216.4 388.1L216.9 388.2L217.4 390.6L217.9 393.7L218.4 393.6L218.9 394.9L219.4 396.2L219.9 395L220.4 393.7L220.9 393.9L221.4 395.6L221.9 396.3L222.4 396.3L222.9 395.7L223.4 395.8L223.9 396.9L224.4 398.9L224.9 400.9L225.4 402.2L225.9 400.8L226.4 399L226.9 398L227.4 396.4L227.9 394.5L228.4 392L228.9 391L229.4 391.5L229.9 392.4L230.4 393.1L230.9 394.1L231.4 395.1L231.9 392.6L232.4 390.2L232.9 391.1L233.4 393.6L233.9 394.9L234.4 396.1L234.9 394.1L235.4 392.1L235.9 391.3L236.4 390.8L236.9 391.2L237.4 391.7L237.9 392L238.4 392.3L238.9 392.9L239.4 393.5L239.9 392.9L240.4 392.1L240.9 395.8L241.4 397.1L241.9 398L242.4 398.5L242.9 399.5L243.4 400.3L243.9 398.9L244.4 397.6L244.9 398.3L245.4 398.6L245.9 397.2L246.4 394.9L246.9 396.8L247.4 398.7L247.9 398.2L248.4 397.9L248.9 398.4L249.4 398.4L249.9 397.9L250.4 397.6L250.9 398.1L251.4 398.6L251.9 398.9L252.4 398.5L252.9 396.9L253.4 396.4L253.9 396.1L254.4 395.8L254.9 395.7L255.4 395.7L255.9 395.7L256.4 394.1L256.9 390.6L257.4 387.2L257.9 386L258.4 384.3L258.9 385.4L259.4 387.1L259.9 385.5L260.4 382.5L260.9 380.2L261.4 383L261.9 387.4L262.4 389.5L262.9 387.1L263.4 384.7L263.9 381.4L264.4 377.8L264.9 376.8L265.4 375.2L265.9 375L266.4 374.7L266.9 373.3L267.4 369.8L267.9 367.8L268.4 366.8L268.9 367.1L269.4 367.7L269.9 367.3L270.4 367.8L270.9 367.5L271.4 365.7L271.9 365.9L272.4 366.5L272.9 365L273.4 363.4L273.9 363.9L274.4 365.1L274.9 363.8L275.4 361.5L275.9 363.4L276.4 363.6L276.9 364.4L277.4 364.5L277.9 366.8L278.4 369.1L278.9 368.1L279.4 369.2L279.9 368.9L280.4 371.3L280.9 369.6L281.4 367.9L281.9 366.6L282.4 365.2L282.9 364.1L283.4 363.9L283.9 357.6L284.4 351.1L284.9 349.5L285.4 348.4L285.9 345L286.4 345.6L286.9 345.3L287.4 342.6L287.9 332.1L288.4 323.9L288.9 321.1L289.4 313.3L289.9 312.4L290.4 313.9L290.9 312.5L291.4 311.3L291.9 312L292.4 312.4L292.9 314.4L293.4 316.4L293.9 315.8L294.4 313.3L294.9 316.9L295.4 318.6L295.9 317.5L296.4 316.4L296.9 316.3L297.4 316.2L297.9 320L298.4 323.7L298.9 323.2L299.4 324.7L299.9 324.8L300.4 328.2L300.9 328L301.4 327.8L301.9 330.4L302.4 330.9L302.9 331.4L303.4 326.3L303.9 324.9L304.4 324.2L304.9 326.4L305.4 325.3L305.9 320.4L306.4 316.8L306.9 314.8L307.4 313.9L307.9 314L308.4 312.3L308.9 310.4L309.4 309.8L309.9 310.2L310.4 309.8L310.9 310L311.4 311.4L311.9 309.5L312.4 307.7L312.9 309.1L313.4 312.9L313.9 317.7L314.4 316.6L314.9 318L315.4 321.9L315.9 324.7L316.4 326.1L316.9 326.1L317.4 324.6L317.9 324.3L318.4 325.8L318.9 326.5L319.4 329.4L319.9 331.4L320.4 330L320.9 330.6L321.4 330.9L321.9 326.8L322.4 321.3L322.9 319.6L323.4 320.9L323.9 323.1L324.4 325.6L324.9 330.9L325.4 333.8L325.9 335.3L326.4 336.6L326.9 336.5L327.4 336.2L327.9 340L328.4 339.6L328.9 340L329.4 341.8L329.9 341.7L330.4 341.1L330.9 336.2L331.4 334.4L331.9 335.9L332.4 340.5L332.9 341.3L333.4 342L333.9 341L334.4 343.9L334.9 339.6L335.4 335.7L335.9 335.5L336.4 335.3L336.9 332.6L337.4 329.1L337.9 330.5L338.4 330.1L338.9 333.5L339.4 336.9L339.9 334.7L340.4 334.8L340.9 331L341.4 325.1L341.9 327L342.4 329.1L342.9 330.2L343.4 329.8L343.9 329.8L344.4 330.3L344.9 327.5L345.4 324.9L345.9 326.4L346.4 326.4L346.9 330L347.4 329.3L347.9 321.2L348.4 315.7L348.9 311.2L349.4 309.4L349.9 301.7L350.4 293.8L350.9 284.5L351.4 277.9L351.9 278L352.4 273.7L352.9 268.1L353.4 268.2L353.9 269.4L354.4 261.9L354.9 256.7L355.4 259L355.9 261.3L356.4 261L356.9 264.3L357.4 272.7L357.9 273.9L358.4 272.5L358.9 272.2L359.4 269.3L359.9 266.1L360.4 269.8L360.9 273.5L361.4 271.6L361.9 272.3L362.4 271.2L362.9 268.7L363.4 270.6L363.9 268.3L364.4 264.1L364.9 263.1L365.4 261.7L365.9 261.2L366.4 261.2L366.9 262.7L367.4 266.4L367.9 268.3L368.4 268.2L368.9 269.9L369.4 273.1L369.9 274L370.4 273.8L370.9 275.5L371.4 277.3L371.9 276.2L372.4 277.6L372.9 278.3L373.4 274.1L373.9 283.9L374.4 294.5L374.9 295.1L375.4 296.9L375.9 302.8L376.4 302.6L376.9 305.7L377.4 305.2L377.9 309.5L378.4 313.8L378.9 310.6L379.4 306.6L379.9 310.9L380.4 310.9L380.9 308.2L381.4 305.5L381.9 309L382.4 310.6L382.9 314.5L383.4 320.4L383.9 317.5L384.4 316.4L384.9 317.8L385.4 317.9L385.9 311.2L386.4 307.2L386.9 300.3L387.4 290.7L387.9 289.6L388.4 289L388.9 288.1L389.4 291.8L389.9 291L390.4 287.5L390.9 283.8L391.4 277.2L391.9 268.3L392.4 267.3L392.9 268.6L393.4 265.7L393.9 266.8L394.4 266.5L394.9 263.9L395.4 258.7L395.9 263.6L396.4 263.8L396.9 267.1L397.4 261.3L397.9 260.8L398.4 263.4L398.9 259.2L399.4 261.5L399.9 261.1L400.4 261.1L400.9 265.1L401.4 267.3L401.9 266.9L402.4 267.6L402.9 265.2L403.4 263.7L403.9 264.7L404.4 265.3L404.9 261.8L405.4 260.9L405.9 261.5L406.4 253.4L406.9 251.7L407.4 253.5L407.9 248.8L408.4 243L408.9 237L409.4 234.2L409.9 235.4L410.4 245.6L410.9 246.1L411.4 244.4L411.9 238.4L412.4 233.6L412.9 232.6L413.4 231L413.9 231.1L414.4 230.6L414.9 226.3L415.4 226L415.9 225.8L416.4 226.9L416.9 236.4L417.4 238.4L417.9 242.7L418.4 248.4L418.9 240L419.4 231.5L419.9 233L420.4 235.1L420.9 235.4L421.4 243L421.9 234.8L422.4 228.1L422.9 229.1L423.4 228.7L423.9 224.5L424.4 222.4L424.9 232L425.4 234.8L425.9 230.7L426.4 229.7L426.9 228.5L427.4 222.9L427.9 216L428.4 210L428.9 213.4L429.4 224.2L429.9 234L430.4 235.8L430.9 233L431.4 236.4L431.9 235L432.4 236.7L432.9 244.5L433.4 249.6L433.9 247.7L434.4 252.3L434.9 254.7L435.4 255.5L435.9 262.1L436.4 271.9L436.9 273.9L437.4 278.4L437.9 283.6L438.4 286.2L438.9 290.8L439.4 290.1L439.9 286.1L440.4 285.8L440.9 281.4L441.4 283.2L441.9 280L442.4 278.5L442.9 281.7L443.4 282.8L443.9 284.2L444.4 290.7L444.9 289L445.4 288.7L445.9 292.6L446.4 286.7L446.9 285.9L447.4 291.9L447.9 284.6L448.4 283.2L448.9 281.7L449.4 277.7L449.9 278L450.4 277.3L450.9 276L451.4 272.9L451.9 270.3L452.4 278L452.9 279.9L453.4 285.4L453.9 284.9L454.4 288.2L454.9 291.4L455.4 298.6L455.9 302.6L456.4 306.6L456.9 315.8L457.4 324.3L457.9 327.7L458.4 329.5L458.9 331L459.2 331.6L459.2 454Z" fill="#c9bf0b"/>
<path d="M12.4 454L12.4 386.8L12.9 387.2L13.4 387.7L13.9 389.8L14.4 391.9L14.9 392.7L15.4 393.6L15.9 393.3L16.4 391.5L16.9 390.9L17.4 391.6L17.9 389.1L18.4 386L18.9 382.8L19.4 379.5L19.9 379.6L20.4 379.2L20.9 377.8L21.4 377.1L21.9 374.9L22.4 373.3L22.9 371.4L23.4 369.2L23.9 368.2L24.4 367.3L24.9 366.4L25.4 366.9L25.9 365.4L26.4 363.9L26.9 361.9L27.4 361.2L27.9 360.9L28.4 363L28.9 362.7L29.4 362.2L29.9 360.4L30.4 358.7L30.9 363.6L31.4 366L31.9 361.5L32.4 359.6L32.9 362.3L33.4 360.9L33.9 355L34.4 352.8L34.9 352.7L35.4 348.1L35.9 346.5L36.4 344.7L36.9 342.9L37.4 343.5L37.9 349.5L38.4 352.8L38.9 348.6L39.4 349L39.9 350L40.4 347.3L40.9 344.3L41.4 342.5L41.9 343.4L42.4 344.1L42.9 338.9L43.4 334.8L43.9 342.5L44.4 347.2L44.9 351.5L45.4 360.1L45.9 366L46.4 370.6L46.9 377.1L47.4 378.8L47.9 379.5L48.4 378.9L48.9 379L49.4 378.5L49.9 379.4L50.4 381L50.9 381.8L51.4 382.5L51.9 383.1L52.4 384L52.9 384L53.4 383.8L53.9 385.5L54.4 385.6L54.9 385.5L55.4 386.4L55.9 385.7L56.4 384.6L56.9 386.9L57.4 387.3L57.9 388.1L58.4 389.1L58.9 390.5L59.4 392.1L59.9 391.3L60.4 390.4L60.9 385.5L61.4 383L61.9 379L62.4 373.7L62.9 373.9L63.4 371.8L63.9 370.2L64.4 368.6L64.9 365.8L65.4 363L65.9 361.1L66.4 359.5L66.9 358.3L67.4 357.4L67.9 356.5L68.4 355.4L68.9 353.5L69.4 351.3L69.9 347.5L70.4 343.6L70.9 345.6L71.4 346.3L71.9 348.8L72.4 351.9L72.9 355.5L73.4 357.3L73.9 356.8L74.4 356L74.9 354.7L75.4 354.9L75.9 358.2L76.4 360.3L76.9 360.9L77.4 359.5L77.9 355.1L78.4 350.3L78.9 346.5L79.4 341.8L79.9 340.8L80.4 338.8L80.9 338.2L81.4 335.8L81.9 332.2L82.4 330.5L82.9 330.6L83.4 329.3L83.9 332.5L84.4 328.5L84.9 326L85.4 325.8L85.9 322.1L86.4 320.1L86.9 316.3L87.4 317.6L87.9 319.1L88.4 322.4L88.9 325.3L89.4 328L89.9 331.1L90.4 332.8L90.9 333.8L91.4 332.4L91.9 337.9L92.4 339.8L92.9 342.1L93.4 345.4L93.9 345.8L94.4 345.1L94.9 346.2L95.4 347.2L95.9 349.7L96.4 350.3L96.9 350.3L97.4 352.2L97.9 351L98.4 348.6L98.9 349.8L99.4 353.7L99.9 354.1L100.4 356.1L100.9 357.7L101.4 358.3L101.9 360.6L102.4 362.8L102.9 364.3L103.4 364.6L103.9 367.5L104.4 370.5L104.9 373.1L105.4 376.5L105.9 374.5L106.4 372.6L106.9 370.2L107.4 369.2L107.9 368.1L108.4 370.1L108.9 366.7L109.4 365.3L109.9 367.6L110.4 372.3L110.9 375.7L111.4 379L111.9 374.8L112.4 373.5L112.9 375.5L113.4 376.3L113.9 376L114.4 375.5L114.9 372.5L115.4 371.5L115.9 368.8L116.4 369.3L116.9 368.1L117.4 366.7L117.9 365.3L118.4 363.8L118.9 362.2L119.4 360.6L119.9 358.8L120.4 357L120.9 355.4L121.4 353.8L121.9 354.2L122.4 353.1L122.9 356.6L123.4 361.1L123.9 361.4L124.4 364.2L124.9 365.5L125.4 366.5L125.9 367.2L126.4 368.2L126.9 370.6L127.4 372.6L127.9 372.3L128.4 371.4L128.9 371.2L129.4 382.4L129.9 390.9L130.4 393.1L130.9 393.1L131.4 392.6L131.9 392.7L132.4 392.9L132.9 392.9L133.4 393.3L133.9 393.7L134.4 393.7L134.9 395.9L135.4 398.1L135.9 398.1L136.4 398L136.9 397.2L137.4 395.2L137.9 397.8L138.4 415.2L138.9 416.5L139.4 416.5L139.9 416.9L140.4 417.3L140.9 416.1L141.4 415.2L141.9 415.1L142.4 415.4L142.9 414.1L143.4 412.4L143.9 411.4L144.4 410.4L144.9 410.8L145.4 410.1L145.9 409.1L146.4 407.4L146.9 406.1L147.4 404.8L147.9 404.9L148.4 405L148.9 404.9L149.4 404.6L149.9 404.1L150.4 403.5L150.9 404.2L151.4 404.9L151.9 403.3L152.4 401.8L152.9 401.6L153.4 402.7L153.9 404.7L154.4 406.6L154.9 408.1L155.4 409.4L155.9 410.3L156.4 411.4L156.9 412.2L157.4 412.9L157.9 411.6L158.4 410.3L158.9 411.6L159.4 412.3L159.9 411.8L160.4 411.1L160.9 412L161.4 412.9L161.9 413.8L162.4 414.6L162.9 414.3L163.4 414.3L163.9 414.6L164.4 414.7L164.9 414.3L165.4 414L165.9 413.9L166.4 413.9L166.9 414.2L167.4 414.1L167.9 414.6L168.4 415.2L168.9 414.7L169.4 414.2L169.9 412.4L170.4 410.9L170.9 411.3L171.4 411.4L171.9 412.5L172.4 413.3L172.9 411.8L173.4 411.6L173.9 414.5L174.4 418.1L174.9 419L175.4 419.7L175.9 419.8L176.4 419.8L176.9 419.6L177.4 419.3L177.9 420.2L178.4 419.6L178.9 418.2L179.4 418.3L179.9 418.6L180.4 418.9L180.9 418.7L181.4 418.5L181.9 418.5L182.4 418.3L182.9 418.2L183.4 418.2L183.9 418.5L184.4 418.7L184.9 418.7L185.4 418.8L185.9 419.4L186.4 418.8L186.9 418.2L187.4 418.4L187.9 416.1L188.4 413.4L188.9 412.9L189.4 411.8L189.9 410.8L190.4 409.6L190.9 409L191.4 408.5L191.9 407.9L192.4 406.7L192.9 407.1L193.4 408L193.9 407.5L194.4 407L194.9 407L195.4 407.4L195.9 407.1L196.4 407.5L196.9 406.8L197.4 406L197.9 405.1L198.4 405.4L198.9 405.3L199.4 406L199.9 407.2L200.4 408.3L200.9 409.6L201.4 410.3L201.9 410.9L202.4 412.1L202.9 410.6L203.4 409.3L203.9 408.6L204.4 403L204.9 399.6L205.4 397.4L205.9 396.8L206.4 396.4L206.9 396.4L207.4 396.5L207.9 396.4L208.4 395.7L208.9 394L209.4 393.2L209.9 393.6L210.4 394.1L210.9 392.7L211.4 393L211.9 393.7L212.4 395.6L212.9 394.5L213.4 393.9L213.9 395.4L214.4 394.7L214.9 393.1L215.4 392.9L215.9 392.5L216.4 392L216.9 391.9L217.4 393.9L217.9 396.6L218.4 396.6L218.9 398.3L219.4 399.9L219.9 398.6L220.4 397L220.9 396.8L221.4 398.4L221.9 399L222.4 399L222.9 398.5L223.4 398.7L223.9 399.8L224.4 401.8L224.9 403.7L225.4 404.8L225.9 403.5L226.4 401.8L226.9 401.1L227.4 400.5L227.9 398.3L228.4 395.1L228.9 394L229.4 394.1L229.9 394.4L230.4 394.7L230.9 395.8L231.4 397L231.9 395.2L232.4 393.1L232.9 394L233.4 396.3L233.9 397.1L234.4 397.7L234.9 396.3L235.4 395L235.9 394.4L236.4 393.8L236.9 394.2L237.4 394.1L237.9 394.9L238.4 395.8L238.9 396.3L239.4 396.8L239.9 396.2L240.4 395.1L240.9 399.1L241.4 400.2L241.9 401L242.4 401.8L242.9 402.5L243.4 402.8L243.9 402.1L244.4 401.4L244.9 401.3L245.4 401.3L245.9 399.5L246.4 397.2L246.9 399.7L247.4 402.1L247.9 401.3L248.4 400.6L248.9 401.4L249.4 401.5L249.9 400.9L250.4 400L250.9 401.2L251.4 402.4L251.9 401.7L252.4 400.7L252.9 399.7L253.4 399.3L253.9 399.6L254.4 400.2L254.9 399.2L255.4 398.4L255.9 398.6L256.4 396.6L256.9 393L257.4 390.2L257.9 388.9L258.4 387.3L258.9 388.2L259.4 389.7L259.9 388.4L260.4 385.6L260.9 383.2L261.4 387L261.9 391L262.4 392.1L262.9 390.1L263.4 388L263.9 384.3L264.4 380.6L264.9 379.6L265.4 377.3L265.9 377L266.4 377.1L266.9 376.2L267.4 373.4L267.9 371.8L268.4 371.6L268.9 371.2L269.4 370.7L269.9 370.6L270.4 371L270.9 370.9L271.4 370.5L271.9 370.6L272.4 370.7L272.9 369.3L273.4 367.8L273.9 367.8L274.4 368.2L274.9 367.3L275.4 365.8L275.9 366.8L276.4 366.6L276.9 367.2L277.4 366.7L277.9 369.4L278.4 372.1L278.9 371.1L279.4 372.2L279.9 371.5L280.4 372.8L280.9 372.1L281.4 371.4L281.9 369.6L282.4 368.1L282.9 366.3L283.4 364.9L283.9 358.9L284.4 352.9L284.9 351.5L285.4 350.4L285.9 347.3L286.4 348L286.9 347.5L287.4 345L287.9 336.3L288.4 329.2L288.9 326.4L289.4 318.1L289.9 317L290.4 317L290.9 315.8L291.4 315.9L291.9 315.8L292.4 315L292.9 318.1L293.4 321.2L293.9 320.1L294.4 318.7L294.9 321.6L295.4 324.4L295.9 322.4L296.4 320.5L296.9 321.5L297.4 322.5L297.9 325.4L298.4 328.2L298.9 328.4L299.4 330.5L299.9 329.5L300.4 332.6L300.9 335.1L301.4 337.4L301.9 337.4L302.4 337.4L302.9 338.8L303.4 335.2L303.9 333.7L304.4 332.5L304.9 333.1L305.4 331.3L305.9 325.7L306.4 322.7L306.9 321.4L307.4 321L307.9 320.7L308.4 318.6L308.9 316.2L309.4 315.9L309.9 316.7L310.4 316.6L310.9 316.6L311.4 316.7L311.9 314.9L312.4 313.4L312.9 315.6L313.4 320L313.9 324.6L314.4 324.7L314.9 327.4L315.4 331.6L315.9 333.8L316.4 334L316.9 333L317.4 331.6L317.9 330.6L318.4 331.3L318.9 333.7L319.4 337.2L319.9 338.5L320.4 336.5L320.9 335.8L321.4 335L321.9 331.2L322.4 327.2L322.9 326.1L323.4 326.3L323.9 329.2L324.4 333L324.9 337L325.4 340.1L325.9 341.9L326.4 343.5L326.9 343.7L327.4 343.6L327.9 346.5L328.4 346.2L328.9 346.5L329.4 347.9L329.9 347.3L330.4 346.1L330.9 342.9L331.4 341.3L331.9 343L332.4 347.4L332.9 346.9L333.4 346.5L333.9 346.6L334.4 350.4L334.9 346.2L335.4 343.5L335.9 341.9L336.4 340.3L336.9 337.9L337.4 335.4L337.9 336.6L338.4 338L338.9 341L339.4 344L339.9 341.6L340.4 341.2L340.9 337.5L341.4 330.2L341.9 332.9L342.4 335.7L342.9 336L343.4 335.5L343.9 335.8L344.4 338.5L344.9 336L345.4 333.4L345.9 332.5L346.4 331.8L346.9 333.7L347.4 333.1L347.9 327.3L348.4 322.6L348.9 319.2L349.4 318L349.9 308.5L350.4 298.7L350.9 291.1L351.4 285.8L351.9 284.9L352.4 279.2L352.9 273.1L353.4 274.9L353.9 276.7L354.4 268.9L354.9 264.2L355.4 267.7L355.9 269.3L356.4 268.6L356.9 272.4L357.4 282.7L357.9 281.5L358.4 278.7L358.9 279.6L359.4 276.5L359.9 272.8L360.4 276.8L360.9 281.1L361.4 281.1L361.9 282.4L362.4 279.6L362.9 276.2L363.4 276.8L363.9 275.9L364.4 273.8L364.9 273.6L365.4 270.7L365.9 269.4L366.4 270.8L366.9 272.9L367.4 274.8L367.9 276.8L368.4 279.7L368.9 280.1L369.4 280.8L369.9 281.9L370.4 282.8L370.9 282.8L371.4 282.8L371.9 283.5L372.4 284.9L372.9 285.6L373.4 280.8L373.9 290L374.4 301.2L374.9 301L375.4 301.6L375.9 307.9L376.4 309.1L376.9 311.7L377.4 312.5L377.9 316.8L378.4 321.1L378.9 317.2L379.4 313.1L379.9 317.2L380.4 317.3L380.9 314.9L381.4 312.5L381.9 315.8L382.4 317.3L382.9 321.9L383.4 328.5L383.9 325L384.4 323.6L384.9 324.5L385.4 321.7L385.9 317L386.4 313.5L386.9 304.8L387.4 293.7L387.9 294.4L388.4 295.5L388.9 293.5L389.4 293.6L389.9 296.7L390.4 294.6L390.9 291.2L391.4 284.5L391.9 275.1L392.4 273.2L392.9 275L393.4 272.5L393.9 273.4L394.4 272.2L394.9 270.1L395.4 265.6L395.9 270.3L396.4 271L396.9 274.1L397.4 269.1L397.9 268.1L398.4 270.4L398.9 265.3L399.4 267.5L399.9 267.9L400.4 267.4L400.9 272.1L401.4 274.5L401.9 273.9L402.4 273.9L402.9 272.6L403.4 271.4L403.9 273L404.4 273.6L404.9 269.2L405.4 268L405.9 268L406.4 261L406.9 259.4L407.4 261.2L407.9 255.8L408.4 249.4L408.9 243.3L409.4 241.7L409.9 242.7L410.4 250.5L410.9 254.1L411.4 256L411.9 249.9L412.4 243.2L412.9 241.8L413.4 237.9L413.9 239.2L414.4 240L414.9 235.2L415.4 234.8L415.9 235.1L416.4 237.3L416.9 244.2L417.4 247.5L417.9 250.1L418.4 255.2L418.9 250.2L419.4 245.1L419.9 244.6L420.4 245L420.9 245.5L421.4 251L421.9 242.5L422.4 236.7L422.9 239.3L423.4 237.5L423.9 234.6L424.4 235.2L424.9 243.8L425.4 246L425.9 241.7L426.4 237.9L426.9 238.7L427.4 234.5L427.9 227.3L428.4 222.7L428.9 227.1L429.4 237.6L429.9 245.5L430.4 246.6L430.9 241.6L431.4 244.5L431.9 245.3L432.4 246.3L432.9 254.2L433.4 262.4L433.9 259.5L434.4 264.6L434.9 266.2L435.4 265.9L435.9 273.6L436.4 283.1L436.9 285.3L437.4 289.3L437.9 295L438.4 296.9L438.9 302.3L439.4 301.4L439.9 297.5L440.4 297L440.9 292.8L441.4 295.6L441.9 291.7L442.4 289.6L442.9 292.5L443.4 293.1L443.9 294.3L444.4 297.9L444.9 297.9L445.4 297.8L445.9 299.2L446.4 295.7L446.9 295.4L447.4 302L447.9 294.4L448.4 292.9L448.9 291.3L449.4 287.5L449.9 287.5L450.4 286.7L450.9 285.2L451.4 282.2L451.9 279.7L452.4 286.1L452.9 289.3L453.4 295.2L453.9 294.2L454.4 296.2L454.9 300.6L455.4 307.3L455.9 311.9L456.4 316.7L456.9 325.2L457.4 333.4L457.9 336.6L458.4 338.5L458.9 340L459.2 340.5L459.2 454Z" fill="#24afbd"/>
<path d="M12.4 454L12.4 408.9L12.9 408.6L13.4 407.6L13.9 407.4L14.4 407.4L14.9 407.3L15.4 406.5L15.9 406.8L16.4 408.6L16.9 409.7L17.4 410.5L17.9 410.2L18.4 409.8L18.9 408.1L19.4 404.4L19.9 402.5L20.4 400.7L20.9 398.5L21.4 395.7L21.9 394.4L22.4 393.1L22.9 391.6L23.4 390.1L23.9 388.7L24.4 387.4L24.9 387.1L25.4 387.6L25.9 386.5L26.4 385.4L26.9 383.8L27.4 383.1L27.9 381.4L28.4 381.3L28.9 379.6L29.4 377.8L29.9 375.7L30.4 374.1L30.9 380L31.4 383.9L31.9 382.6L32.4 382.4L32.9 384L33.4 381.6L33.9 377.2L34.4 375.5L34.9 376L35.4 373.8L35.9 372L36.4 370L36.9 368.5L37.4 369.9L37.9 375.9L38.4 380.3L38.9 379.5L39.4 380.8L39.9 381.7L40.4 380.4L40.9 379.1L41.4 377.6L41.9 377L42.4 380.4L42.9 384.7L43.4 385.2L43.9 385.4L44.4 390.5L44.9 395.6L45.4 397.9L45.9 400L46.4 400.2L46.9 401.2L47.4 402.4L47.9 401.9L48.4 401.6L48.9 402L49.4 402.1L49.9 403.1L50.4 404.6L50.9 405.1L51.4 405.5L51.9 405.9L52.4 406L52.9 405.7L53.4 405.3L53.9 405.7L54.4 405.4L54.9 405.3L55.4 405.8L55.9 405.2L56.4 404.6L56.9 406.8L57.4 407.9L57.9 408.1L58.4 407.8L58.9 408L59.4 408.2L59.9 409.3L60.4 409.8L60.9 407.5L61.4 402.6L61.9 400.5L62.4 399.3L62.9 397.1L63.4 396.4L63.9 394.5L64.4 392.7L64.9 390.6L65.4 389.3L65.9 388.5L66.4 388.8L66.9 386.8L67.4 384.8L67.9 385L68.4 385.3L68.9 383.6L69.4 381.8L69.9 380.7L70.4 379.8L70.9 382.7L71.4 383.6L71.9 384.4L72.4 384.9L72.9 386.9L73.4 388.7L73.9 388.8L74.4 389.8L74.9 392.3L75.4 395L75.9 395L76.4 394.7L76.9 393.3L77.4 390.9L77.9 388.3L78.4 385.6L78.9 381.2L79.4 377.3L79.9 376.6L80.4 375.1L80.9 375.1L81.4 373.2L81.9 368.7L82.4 368.3L82.9 371.4L83.4 374.4L83.9 373.6L84.4 371.5L84.9 369.9L85.4 370.1L85.9 367.4L86.4 363.1L86.9 360.8L87.4 360.6L87.9 362L88.4 363.4L88.9 365.8L89.4 368.8L89.9 370.9L90.4 372.2L90.9 371.5L91.4 370.6L91.9 372.5L92.4 374.7L92.9 375.9L93.4 377.4L93.9 378.2L94.4 378.8L94.9 380.1L95.4 382.1L95.9 383.4L96.4 383.8L96.9 385.4L97.4 385.8L97.9 386L98.4 386.5L98.9 387.6L99.4 387.6L99.9 388.4L100.4 388.9L100.9 390.2L101.4 392.4L101.9 393L102.4 393.2L102.9 392.8L103.4 392.5L103.9 394.1L104.4 395.1L104.9 397.4L105.4 401.3L105.9 399.8L106.4 397.7L106.9 396.2L107.4 394.7L107.9 395.3L108.4 394.2L108.9 395.8L109.4 396.6L109.9 398.6L110.4 399.1L110.9 400.7L111.4 402.9L111.9 400.9L112.4 398.8L112.9 396.2L113.4 394.8L113.9 396.9L114.4 397.5L114.9 396.9L115.4 397.1L115.9 395.2L116.4 395.5L116.9 395.6L117.4 395L117.9 394L118.4 392.5L118.9 391L119.4 389.6L119.9 388.7L120.4 388.4L120.9 388.9L121.4 389.5L121.9 389.1L122.4 389.7L122.9 390.2L123.4 392L123.9 394.7L124.4 395.8L124.9 396.7L125.4 397.2L125.9 397.8L126.4 398.1L126.9 398.1L127.4 399L127.9 399.5L128.4 399.1L128.9 399.1L129.4 405.6L129.9 411.1L130.4 411.8L130.9 411.1L131.4 411L131.9 410.8L132.4 410.6L132.9 411.1L133.4 411.6L133.9 411.3L134.4 411.4L134.9 413.1L135.4 414.9L135.9 414.8L136.4 414.7L136.9 414L137.4 412.6L137.9 414.2L138.4 424L138.9 424.9L139.4 424.7L139.9 425.5L140.4 426.3L140.9 425.4L141.4 424.8L141.9 425L142.4 425.5L142.9 424.9L143.4 423.9L143.9 423.7L144.4 423.5L144.9 423.8L145.4 423.4L145.9 423L146.4 422.2L146.9 421.2L147.4 420.3L147.9 420.6L148.4 420.9L148.9 421L149.4 421.1L149.9 420.9L150.4 420.6L150.9 421.1L151.4 421.6L151.9 420.6L152.4 419.8L152.9 420.1L153.4 420.9L153.9 421.9L154.4 422.5L154.9 423.4L155.4 424L155.9 424.6L156.4 425.3L156.9 425.7L157.4 426L157.9 425.4L158.4 424.8L158.9 425L159.4 425L159.9 425.1L160.4 424.8L160.9 425L161.4 425.3L161.9 425.7L162.4 426.2L162.9 426L163.4 426.1L163.9 426.4L164.4 426.7L164.9 426.4L165.4 426.2L165.9 426.3L166.4 426.4L166.9 426.1L167.4 426.1L167.9 426.9L168.4 427.5L168.9 427L169.4 426.5L169.9 425.6L170.4 424.9L170.9 425L171.4 425.2L171.9 425.8L172.4 426.1L172.9 425.7L173.4 425.7L173.9 427.7L174.4 430.1L174.9 430.7L175.4 431.2L175.9 431L176.4 430.7L176.9 430.7L177.4 430.6L177.9 431.2L178.4 430.8L178.9 429.9L179.4 430L179.9 430L180.4 429.9L180.9 429.8L181.4 429.6L181.9 429.9L182.4 429.9L182.9 429.9L183.4 429.8L183.9 430.1L184.4 430.5L184.9 430.3L185.4 430.2L185.9 430.3L186.4 430L186.9 429.8L187.4 429.9L187.9 428.6L188.4 427L188.9 426.6L189.4 426.1L189.9 425.4L190.4 424.8L190.9 424L191.4 423.3L191.9 422.9L192.4 422.2L192.9 422.2L193.4 422.5L193.9 421.8L194.4 421.1L194.9 421.1L195.4 421.1L195.9 420.8L196.4 420.8L196.9 420.4L197.4 420L197.9 419.3L198.4 419.1L198.9 419L199.4 418.8L199.9 419.5L200.4 420.2L200.9 421.4L201.4 422L201.9 422.6L202.4 423.7L202.9 422.8L203.4 422L203.9 421.6L204.4 417.8L204.9 415.6L205.4 414L205.9 413.3L206.4 412.7L206.9 412.2L207.4 412.1L207.9 412.9L208.4 412.5L208.9 411.3L209.4 410.9L209.9 411.1L210.4 411.3L210.9 410.4L211.4 410.8L211.9 411.1L212.4 411.8L212.9 411.7L213.4 411.8L213.9 412.2L214.4 412.2L214.9 411.9L215.4 411.8L215.9 410.9L216.4 410.1L216.9 409.7L217.4 411.1L217.9 413.2L218.4 413.1L218.9 414.3L219.4 415.7L219.9 414.9L220.4 414L220.9 414.3L221.4 415.1L221.9 415.4L222.4 415.4L222.9 414.8L223.4 414.8L223.9 415.3L224.4 416.6L224.9 418.4L225.4 419.8L225.9 418.4L226.4 416.6L226.9 415.8L227.4 414.3L227.9 412.9L228.4 411.2L228.9 410.4L229.4 410.4L229.9 411L230.4 411.5L230.9 412.1L231.4 412.7L231.9 411.1L232.4 409.6L232.9 410.1L233.4 411.7L233.9 412.7L234.4 413.6L234.9 412.9L235.4 412.2L235.9 411.2L236.4 410.4L236.9 410.8L237.4 411.1L237.9 412L238.4 412.9L238.9 412.7L239.4 412.6L239.9 412L240.4 411.5L240.9 414.2L241.4 415.2L241.9 415.5L242.4 415.7L242.9 416.1L243.4 416.4L243.9 416L244.4 415.6L244.9 415.2L245.4 415.1L245.9 414.2L246.4 413L246.9 414.5L247.4 416.1L247.9 415.5L248.4 414.9L248.9 415.2L249.4 415.2L249.9 415L250.4 414.6L250.9 415.7L251.4 416.8L251.9 416.5L252.4 415.8L252.9 414.4L253.4 414.2L253.9 414.1L254.4 413.8L254.9 413.6L255.4 413.4L255.9 413.3L256.4 411.4L256.9 408.5L257.4 406L257.9 404.6L258.4 403.7L258.9 404.8L259.4 406.1L259.9 405.1L260.4 402.7L260.9 400.7L261.4 403.4L261.9 406.7L262.4 407.9L262.9 405.7L263.4 403.5L263.9 401.2L264.4 398.9L264.9 398.3L265.4 397.1L265.9 396.7L266.4 396.4L266.9 395.7L267.4 393.5L267.9 392L268.4 391.3L268.9 391.2L269.4 391.2L269.9 390.8L270.4 390.7L270.9 390.5L271.4 390.1L271.9 389.9L272.4 389.8L272.9 388.7L273.4 387.6L273.9 387.6L274.4 388.5L274.9 387.7L275.4 386.4L275.9 388.1L276.4 388.1L276.9 389L277.4 389.2L277.9 390.7L278.4 392.3L278.9 391.7L279.4 392.7L279.9 392.2L280.4 393.5L280.9 392.9L281.4 392.3L281.9 390.9L282.4 389.7L282.9 389.4L283.4 390.2L283.9 385.4L284.4 380.4L284.9 379.2L285.4 378.1L285.9 375.2L286.4 374.4L286.9 373.6L287.4 371.6L287.9 366.8L288.4 362.7L288.9 363L289.4 358.7L289.9 358.6L290.4 359.4L290.9 356.9L291.4 354.9L291.9 354.8L292.4 354.6L292.9 355.5L293.4 356.3L293.9 354.3L294.4 351.8L294.9 354.1L295.4 355.5L295.9 354.6L296.4 353.6L296.9 355.1L297.4 356.6L297.9 356.7L298.4 357.5L298.9 355.7L299.4 354.1L299.9 358.7L300.4 360.5L300.9 360.9L301.4 362.1L301.9 364.6L302.4 366.6L302.9 362.8L303.4 361.7L303.9 358.7L304.4 355.8L304.9 354.3L305.4 353.7L305.9 355.8L306.4 354.9L306.9 352.6L307.4 352.5L307.9 352L308.4 352L308.9 352.8L309.4 352.4L309.9 352.1L310.4 351.7L310.9 350.9L311.4 351.2L311.9 349.3L312.4 347.8L312.9 349.7L313.4 353.1L313.9 356.4L314.4 357.4L314.9 359.4L315.4 361.7L315.9 363.7L316.4 364.5L316.9 364.5L317.4 363.1L317.9 363L318.4 364.9L318.9 367.9L319.4 368.4L319.9 366.2L320.4 364.8L320.9 364.9L321.4 365.1L321.9 362.3L322.4 358.7L322.9 357.3L323.4 357.6L323.9 360.2L324.4 363.4L324.9 366.3L325.4 369.1L325.9 370.1L326.4 369.8L326.9 369.4L327.4 368.8L327.9 369.3L328.4 367.6L328.9 367.8L329.4 369.3L329.9 370.1L330.4 370.7L330.9 368.4L331.4 367.3L331.9 368.5L332.4 371L332.9 370.8L333.4 370.7L333.9 371.5L334.4 369.4L334.9 366.1L335.4 365.2L335.9 364.8L336.4 364.5L336.9 362.7L337.4 360.6L337.9 361L338.4 361.2L338.9 362.8L339.4 364.4L339.9 361L340.4 359.5L340.9 357L341.4 351.5L341.9 352.5L342.4 353.6L342.9 354.7L343.4 354.5L343.9 354.9L344.4 356.2L344.9 354.6L345.4 352.8L345.9 352.2L346.4 351.8L346.9 354.7L347.4 354.5L347.9 348.3L348.4 340.8L348.9 330L349.4 324.6L349.9 321.4L350.4 317.4L350.9 315.4L351.4 311L351.9 305.3L352.4 306.7L352.9 309.3L353.4 306.7L353.9 299.6L354.4 295.6L354.9 298.5L355.4 303.2L355.9 304.9L356.4 306.4L356.9 310.7L357.4 314.6L357.9 314.5L358.4 312.9L358.9 312.6L359.4 308.4L359.9 304.2L360.4 302.5L360.9 306.3L361.4 310.2L361.9 309.8L362.4 311.1L362.9 311.5L363.4 308.3L363.9 306.3L364.4 306.5L364.9 307.9L365.4 309.1L365.9 307.7L366.4 306.4L366.9 305.9L367.4 305.3L367.9 307.2L368.4 309L368.9 307.6L369.4 307.4L369.9 307.7L370.4 308.2L370.9 309.2L371.4 310.2L371.9 309L372.4 309.3L372.9 310L373.4 307.9L373.9 313.7L374.4 320.4L374.9 321.1L375.4 322.6L375.9 328.4L376.4 332L376.9 329.5L377.4 330.6L377.9 335.4L378.4 339.6L378.9 336.8L379.4 333.4L379.9 334.9L380.4 331.9L380.9 329.3L381.4 328.6L381.9 329.4L382.4 330.4L382.9 335.6L383.4 340.7L383.9 338L384.4 336.8L384.9 336.4L385.4 335L385.9 328.3L386.4 324.6L386.9 318.1L387.4 310.1L387.9 314.3L388.4 313L388.9 310.4L389.4 311.9L389.9 311L390.4 310.4L390.9 310.3L391.4 307.4L391.9 305L392.4 304.1L392.9 306.2L393.4 304.5L393.9 298.4L394.4 298.5L394.9 302L395.4 303.1L395.9 298L396.4 293.3L396.9 293L397.4 289.6L397.9 285.1L398.4 284.4L398.9 289L399.4 294.2L399.9 295.1L400.4 293.8L400.9 294.8L401.4 297.2L401.9 298.4L402.4 298.5L402.9 298L403.4 297.2L403.9 298.9L404.4 299.9L404.9 300.6L405.4 294L405.9 288.3L406.4 287.1L406.9 285.4L407.4 283L407.9 279.9L408.4 277.4L408.9 276L409.4 271.8L409.9 279.1L410.4 287.7L410.9 286.4L411.4 282.8L411.9 283L412.4 283.8L412.9 281.3L413.4 278.4L413.9 278.6L414.4 277.9L414.9 277.6L415.4 274.2L415.9 276.8L416.4 279.5L416.9 284.5L417.4 285.6L417.9 289.3L418.4 295.6L418.9 292.6L419.4 289.7L419.9 288.4L420.4 289.2L420.9 289.7L421.4 295.6L421.9 289.5L422.4 283.3L422.9 281.8L423.4 281.3L423.9 278L424.4 273L424.9 275.7L425.4 278.6L425.9 282L426.4 281.9L426.9 278.9L427.4 275.7L427.9 270.1L428.4 267.6L428.9 270.6L429.4 277.2L429.9 281.6L430.4 282.9L430.9 281.3L431.4 286L431.9 288.3L432.4 289.1L432.9 293.4L433.4 299.9L433.9 298.8L434.4 296.6L434.9 294.8L435.4 294.5L435.9 297.9L436.4 302.3L436.9 300.9L437.4 309.7L437.9 321.6L438.4 320.8L438.9 321.6L439.4 324.8L439.9 323.8L440.4 321.6L440.9 319.5L441.4 320.9L441.9 322.6L442.4 323.5L442.9 324.4L443.4 323.6L443.9 322.8L444.4 326.2L444.9 327.3L445.4 326.5L445.9 327.6L446.4 325.7L446.9 324.2L447.4 327.3L447.9 326.9L448.4 324.6L448.9 321.3L449.4 319.3L449.9 319.7L450.4 322.8L450.9 322.5L451.4 321.3L451.9 321.1L452.4 318.9L452.9 319.6L453.4 322.8L453.9 321.6L454.4 321.1L454.9 325.2L455.4 331.2L455.9 334.7L456.4 336.9L456.9 342.6L457.4 348.1L457.9 351.6L458.4 354.6L458.9 356.8L459.2 357.6L459.2 454Z" fill="#00365f"/>
<line x1="508.2" y1="56" x2="508.2" y2="495.6" stroke="#f4d18d" stroke-width="1.8"/>
<line x1="565.8" y1="74.5" x2="565.8" y2="469.5" stroke="#d5d5d5" stroke-width="1.25"/>
<line x1="632.0" y1="74.5" x2="632.0" y2="469.5" stroke="#d5d5d5" stroke-width="1.25"/>
<line x1="698.4" y1="74.5" x2="698.4" y2="469.5" stroke="#d5d5d5" stroke-width="1.25"/>
<line x1="764.8" y1="74.5" x2="764.8" y2="469.5" stroke="#d5d5d5" stroke-width="1.25"/>
<line x1="831.1" y1="74.5" x2="831.1" y2="469.5" stroke="#d5d5d5" stroke-width="1.25"/>
<line x1="897.5" y1="74.5" x2="897.5" y2="469.5" stroke="#d5d5d5" stroke-width="1.25"/>
<line x1="964.2" y1="74.5" x2="964.2" y2="469.5" stroke="#d5d5d5" stroke-width="1.25"/>
<line x1="517.3" y1="128.3" x2="1004.8" y2="128.3" stroke="#d5d5d5" stroke-width="1.25"/>
<line x1="517.3" y1="182.7" x2="1004.8" y2="182.7" stroke="#d5d5d5" stroke-width="1.25"/>
<line x1="517.3" y1="236.7" x2="1004.8" y2="236.7" stroke="#d5d5d5" stroke-width="1.25"/>
<line x1="517.3" y1="292.1" x2="1004.8" y2="292.1" stroke="#d5d5d5" stroke-width="1.25"/>
<line x1="517.3" y1="346.3" x2="1004.8" y2="346.3" stroke="#d5d5d5" stroke-width="1.25"/>
<line x1="517.3" y1="399.9" x2="1004.8" y2="399.9" stroke="#d5d5d5" stroke-width="1.25"/>
<line x1="517.3" y1="454.3" x2="1004.8" y2="454.3" stroke="#d5d5d5" stroke-width="1.25"/>
<rect x="517.9" y="452.7" width="3.7" height="1.5" fill="#24afbd"/>
<rect x="517.9" y="451.8" width="3.7" height="1.1" fill="#c9bf0b"/>
<rect x="523.4" y="452.7" width="3.7" height="1.5" fill="#24afbd"/>
<rect x="523.4" y="451.8" width="3.7" height="1.1" fill="#c9bf0b"/>
<rect x="528.9" y="451.5" width="3.7" height="2.7" fill="#24afbd"/>
<rect x="528.9" y="450.6" width="3.7" height="1.1" fill="#c9bf0b"/>
<rect x="534.4" y="451.5" width="3.7" height="2.7" fill="#24afbd"/>
<rect x="534.4" y="450.6" width="3.7" height="1.1" fill="#c9bf0b"/>
<rect x="539.9" y="451.5" width="3.7" height="2.7" fill="#24afbd"/>
<rect x="539.9" y="450.6" width="3.7" height="1.1" fill="#c9bf0b"/>
<rect x="545.4" y="450.3" width="3.7" height="3.9" fill="#24afbd"/>
<rect x="545.4" y="449.4" width="3.7" height="1.1" fill="#c9bf0b"/>
<rect x="550.9" y="450.3" width="3.7" height="3.9" fill="#24afbd"/>
<rect x="550.9" y="449.4" width="3.7" height="1.1" fill="#c9bf0b"/>
<rect x="556.4" y="451.5" width="3.7" height="2.7" fill="#24afbd"/>
<rect x="556.4" y="450.6" width="3.7" height="1.1" fill="#c9bf0b"/>
<rect x="561.9" y="451.5" width="3.7" height="2.7" fill="#24afbd"/>
<rect x="561.9" y="450.6" width="3.7" height="1.1" fill="#c9bf0b"/>
<rect x="567.3" y="450.3" width="3.7" height="3.9" fill="#24afbd"/>
<rect x="567.3" y="449.4" width="3.7" height="1.1" fill="#c9bf0b"/>
<rect x="572.8" y="448.4" width="3.7" height="5.8" fill="#24afbd"/>
<rect x="572.8" y="447.5" width="3.7" height="1.1" fill="#c9bf0b"/>
<rect x="578.3" y="448.4" width="3.7" height="5.8" fill="#24afbd"/>
<rect x="578.3" y="447.5" width="3.7" height="1.1" fill="#c9bf0b"/>
<rect x="583.8" y="447.4" width="3.7" height="6.8" fill="#24afbd"/>
<rect x="583.8" y="446.5" width="3.7" height="1.1" fill="#c9bf0b"/>
<rect x="589.3" y="447.4" width="3.7" height="6.8" fill="#24afbd"/>
<rect x="589.3" y="446.5" width="3.7" height="1.1" fill="#c9bf0b"/>
<rect x="594.8" y="444.5" width="3.7" height="9.7" fill="#24afbd"/>
<rect x="594.8" y="443.6" width="3.7" height="1.1" fill="#c9bf0b"/>
<rect x="600.3" y="441.5" width="3.7" height="12.7" fill="#24afbd"/>
<rect x="600.3" y="440.6" width="3.7" height="1.1" fill="#c9bf0b"/>
<rect x="600.3" y="453.2" width="3.7" height="1" fill="#00365f"/>
<rect x="605.8" y="435.7" width="3.7" height="18.5" fill="#24afbd"/>
<rect x="605.8" y="434.8" width="3.7" height="1.1" fill="#c9bf0b"/>
<rect x="605.8" y="452.3" width="3.7" height="1.9" fill="#00365f"/>
<rect x="611.3" y="440.5" width="3.7" height="13.7" fill="#24afbd"/>
<rect x="611.3" y="439.6" width="3.7" height="1.1" fill="#c9bf0b"/>
<rect x="611.3" y="452.3" width="3.7" height="1.9" fill="#00365f"/>
<rect x="616.8" y="437.6" width="3.7" height="16.6" fill="#24afbd"/>
<rect x="616.8" y="436.7" width="3.7" height="1.1" fill="#c9bf0b"/>
<rect x="616.8" y="452.3" width="3.7" height="1.9" fill="#00365f"/>
<rect x="622.3" y="435.7" width="3.7" height="18.5" fill="#24afbd"/>
<rect x="622.3" y="434.8" width="3.7" height="1.1" fill="#c9bf0b"/>
<rect x="622.3" y="450.9" width="3.7" height="3.3" fill="#00365f"/>
<rect x="627.8" y="422" width="3.7" height="32.2" fill="#24afbd"/>
<rect x="627.8" y="421.1" width="3.7" height="1.1" fill="#c9bf0b"/>
<rect x="627.8" y="446" width="3.7" height="8.2" fill="#00365f"/>
<rect x="633.3" y="414.2" width="3.7" height="40" fill="#24afbd"/>
<rect x="633.3" y="413.3" width="3.7" height="1.1" fill="#c9bf0b"/>
<rect x="633.3" y="446" width="3.7" height="8.2" fill="#00365f"/>
<rect x="638.8" y="410.3" width="3.7" height="43.9" fill="#24afbd"/>
<rect x="638.8" y="409.4" width="3.7" height="1.1" fill="#c9bf0b"/>
<rect x="638.8" y="446" width="3.7" height="8.2" fill="#00365f"/>
<rect x="644.3" y="393.7" width="3.7" height="60.5" fill="#24afbd"/>
<rect x="644.3" y="392.8" width="3.7" height="1.1" fill="#c9bf0b"/>
<rect x="644.3" y="442.1" width="3.7" height="12.1" fill="#00365f"/>
<rect x="649.8" y="363.9" width="3.7" height="90.3" fill="#24afbd"/>
<rect x="649.8" y="363" width="3.7" height="1.1" fill="#c9bf0b"/>
<rect x="649.8" y="432.3" width="3.7" height="21.9" fill="#00365f"/>
<rect x="655.2" y="401.5" width="3.7" height="52.7" fill="#24afbd"/>
<rect x="655.2" y="400.6" width="3.7" height="1.1" fill="#c9bf0b"/>
<rect x="655.2" y="437.2" width="3.7" height="17" fill="#00365f"/>
<rect x="660.7" y="411.2" width="3.7" height="42.9" fill="#24afbd"/>
<rect x="660.7" y="410.4" width="3.7" height="1.1" fill="#c9bf0b"/>
<rect x="660.7" y="441.1" width="3.7" height="13.1" fill="#00365f"/>
<rect x="666.2" y="396.1" width="3.7" height="58.1" fill="#24afbd"/>
<rect x="666.2" y="395.2" width="3.7" height="1.1" fill="#c9bf0b"/>
<rect x="666.2" y="441.1" width="3.7" height="13.1" fill="#00365f"/>
<rect x="671.7" y="393.4" width="3.7" height="60.8" fill="#24afbd"/>
<rect x="671.7" y="392.5" width="3.7" height="1.1" fill="#c9bf0b"/>
<rect x="671.7" y="438.2" width="3.7" height="16" fill="#00365f"/>
<rect x="677.2" y="389.5" width="3.7" height="64.7" fill="#24afbd"/>
<rect x="677.2" y="388.6" width="3.7" height="1.1" fill="#c9bf0b"/>
<rect x="677.2" y="436.2" width="3.7" height="17.9" fill="#00365f"/>
<rect x="682.7" y="376.6" width="3.7" height="77.6" fill="#24afbd"/>
<rect x="682.7" y="375.7" width="3.7" height="1.1" fill="#c9bf0b"/>
<rect x="682.7" y="434.7" width="3.7" height="19.5" fill="#00365f"/>
<rect x="688.2" y="378.5" width="3.7" height="75.7" fill="#24afbd"/>
<rect x="688.2" y="377.6" width="3.7" height="1.1" fill="#c9bf0b"/>
<rect x="688.2" y="433.7" width="3.7" height="20.5" fill="#00365f"/>
<rect x="693.7" y="390.2" width="3.7" height="64" fill="#24afbd"/>
<rect x="693.7" y="389.3" width="3.7" height="1.1" fill="#c9bf0b"/>
<rect x="693.7" y="433.7" width="3.7" height="20.5" fill="#00365f"/>
<rect x="699.2" y="403.4" width="3.7" height="50.8" fill="#24afbd"/>
<rect x="699.2" y="402.5" width="3.7" height="1.1" fill="#c9bf0b"/>
<rect x="699.2" y="438.2" width="3.7" height="16" fill="#00365f"/>
<rect x="704.7" y="389.5" width="3.7" height="64.7" fill="#24afbd"/>
<rect x="704.7" y="388.6" width="3.7" height="1.1" fill="#c9bf0b"/>
<rect x="704.7" y="430.8" width="3.7" height="23.4" fill="#00365f"/>
<rect x="710.2" y="393.4" width="3.7" height="60.8" fill="#24afbd"/>
<rect x="710.2" y="392.5" width="3.7" height="1.1" fill="#c9bf0b"/>
<rect x="710.2" y="433.7" width="3.7" height="20.5" fill="#00365f"/>
<rect x="715.7" y="361.1" width="3.7" height="93.1" fill="#24afbd"/>
<rect x="715.7" y="360.2" width="3.7" height="1.1" fill="#c9bf0b"/>
<rect x="715.7" y="416.1" width="3.7" height="38.1" fill="#00365f"/>
<rect x="721.2" y="378.5" width="3.7" height="75.7" fill="#24afbd"/>
<rect x="721.2" y="377.6" width="3.7" height="1.1" fill="#c9bf0b"/>
<rect x="721.2" y="423.9" width="3.7" height="30.3" fill="#00365f"/>
<rect x="726.7" y="395.1" width="3.7" height="59.1" fill="#24afbd"/>
<rect x="726.7" y="394.2" width="3.7" height="1.1" fill="#c9bf0b"/>
<rect x="726.7" y="427.9" width="3.7" height="26.3" fill="#00365f"/>
<rect x="732.2" y="389.5" width="3.7" height="64.7" fill="#24afbd"/>
<rect x="732.2" y="388.6" width="3.7" height="1.1" fill="#c9bf0b"/>
<rect x="732.2" y="423.9" width="3.7" height="30.3" fill="#00365f"/>
<rect x="737.7" y="392.2" width="3.7" height="62" fill="#24afbd"/>
<rect x="737.7" y="391.3" width="3.7" height="1.1" fill="#c9bf0b"/>
<rect x="737.7" y="427.9" width="3.7" height="26.3" fill="#00365f"/>
<rect x="743.2" y="396.1" width="3.7" height="58.1" fill="#24afbd"/>
<rect x="743.2" y="395.2" width="3.7" height="1.1" fill="#c9bf0b"/>
<rect x="743.2" y="430.8" width="3.7" height="23.4" fill="#00365f"/>
<rect x="748.6" y="362.1" width="3.7" height="92.1" fill="#24afbd"/>
<rect x="748.6" y="361.2" width="3.7" height="1.1" fill="#c9bf0b"/>
<rect x="748.6" y="409.3" width="3.7" height="44.9" fill="#00365f"/>
<rect x="754.1" y="381.4" width="3.7" height="72.8" fill="#24afbd"/>
<rect x="754.1" y="380.5" width="3.7" height="1.1" fill="#c9bf0b"/>
<rect x="754.1" y="419" width="3.7" height="35.2" fill="#00365f"/>
<rect x="759.6" y="379.5" width="3.7" height="74.7" fill="#24afbd"/>
<rect x="759.6" y="378.6" width="3.7" height="1.1" fill="#c9bf0b"/>
<rect x="759.6" y="416.1" width="3.7" height="38.1" fill="#00365f"/>
<rect x="765.1" y="389.5" width="3.7" height="64.7" fill="#24afbd"/>
<rect x="765.1" y="388.6" width="3.7" height="1.1" fill="#c9bf0b"/>
<rect x="765.1" y="427.9" width="3.7" height="26.3" fill="#00365f"/>
<rect x="770.6" y="361.1" width="3.7" height="93.1" fill="#24afbd"/>
<rect x="770.6" y="360.2" width="3.7" height="1.1" fill="#c9bf0b"/>
<rect x="770.6" y="416.1" width="3.7" height="38.1" fill="#00365f"/>
<rect x="776.1" y="394.1" width="3.7" height="60.1" fill="#24afbd"/>
<rect x="776.1" y="393.2" width="3.7" height="1.1" fill="#c9bf0b"/>
<rect x="776.1" y="437.2" width="3.7" height="17" fill="#00365f"/>
<rect x="781.6" y="395.1" width="3.7" height="59.1" fill="#24afbd"/>
<rect x="781.6" y="394.2" width="3.7" height="1.1" fill="#c9bf0b"/>
<rect x="781.6" y="441.1" width="3.7" height="13.1" fill="#00365f"/>
<rect x="787.1" y="388.3" width="3.7" height="65.9" fill="#24afbd"/>
<rect x="787.1" y="387.4" width="3.7" height="1.1" fill="#c9bf0b"/>
<rect x="787.1" y="435.7" width="3.7" height="18.5" fill="#00365f"/>
<rect x="792.6" y="396.1" width="3.7" height="58.1" fill="#24afbd"/>
<rect x="792.6" y="395.2" width="3.7" height="1.1" fill="#c9bf0b"/>
<rect x="792.6" y="439.6" width="3.7" height="14.6" fill="#00365f"/>
<rect x="798.1" y="394.1" width="3.7" height="60.1" fill="#24afbd"/>
<rect x="798.1" y="393.2" width="3.7" height="1.1" fill="#c9bf0b"/>
<rect x="798.1" y="438.2" width="3.7" height="16" fill="#00365f"/>
<rect x="803.6" y="400.1" width="3.7" height="54.1" fill="#24afbd"/>
<rect x="803.6" y="399.2" width="3.7" height="1.1" fill="#c9bf0b"/>
<rect x="803.6" y="441.1" width="3.7" height="13.1" fill="#00365f"/>
<rect x="809.1" y="394.1" width="3.7" height="60.1" fill="#24afbd"/>
<rect x="809.1" y="393.2" width="3.7" height="1.1" fill="#c9bf0b"/>
<rect x="809.1" y="438.2" width="3.7" height="16" fill="#00365f"/>
<rect x="814.6" y="387.2" width="3.7" height="67" fill="#24afbd"/>
<rect x="814.6" y="386.3" width="3.7" height="1.1" fill="#c9bf0b"/>
<rect x="814.6" y="438.2" width="3.7" height="16" fill="#00365f"/>
<rect x="820.1" y="380.5" width="3.7" height="73.7" fill="#24afbd"/>
<rect x="820.1" y="379.6" width="3.7" height="1.1" fill="#c9bf0b"/>
<rect x="820.1" y="438.2" width="3.7" height="16" fill="#00365f"/>
<rect x="825.6" y="374.6" width="3.7" height="79.6" fill="#24afbd"/>
<rect x="825.6" y="373.7" width="3.7" height="1.1" fill="#c9bf0b"/>
<rect x="825.6" y="434.7" width="3.7" height="19.5" fill="#00365f"/>
<rect x="831.1" y="380.4" width="3.7" height="73.8" fill="#24afbd"/>
<rect x="831.1" y="379.5" width="3.7" height="1.1" fill="#c9bf0b"/>
<rect x="831.1" y="435.7" width="3.7" height="18.5" fill="#00365f"/>
<rect x="836.6" y="341.4" width="3.7" height="112.8" fill="#24afbd"/>
<rect x="836.6" y="340.5" width="3.7" height="1.1" fill="#c9bf0b"/>
<rect x="836.6" y="423.9" width="3.7" height="30.3" fill="#00365f"/>
<rect x="842" y="351.1" width="3.7" height="103.1" fill="#24afbd"/>
<rect x="842" y="350.2" width="3.7" height="1.1" fill="#c9bf0b"/>
<rect x="842" y="425.9" width="3.7" height="28.3" fill="#00365f"/>
<rect x="847.5" y="365.6" width="3.7" height="88.6" fill="#24afbd"/>
<rect x="847.5" y="364.7" width="3.7" height="1.1" fill="#c9bf0b"/>
<rect x="847.5" y="430.8" width="3.7" height="23.4" fill="#00365f"/>
<rect x="853" y="368.7" width="3.7" height="85.5" fill="#24afbd"/>
<rect x="853" y="367.8" width="3.7" height="1.1" fill="#c9bf0b"/>
<rect x="853" y="432.7" width="3.7" height="21.5" fill="#00365f"/>
<rect x="858.5" y="360.9" width="3.7" height="93.3" fill="#24afbd"/>
<rect x="858.5" y="360" width="3.7" height="1.1" fill="#c9bf0b"/>
<rect x="858.5" y="426.9" width="3.7" height="27.3" fill="#00365f"/>
<rect x="864" y="355" width="3.7" height="99.2" fill="#24afbd"/>
<rect x="864" y="354.1" width="3.7" height="1.1" fill="#c9bf0b"/>
<rect x="864" y="424.9" width="3.7" height="29.3" fill="#00365f"/>
<rect x="869.5" y="367.7" width="3.7" height="86.5" fill="#24afbd"/>
<rect x="869.5" y="366.8" width="3.7" height="1.1" fill="#c9bf0b"/>
<rect x="869.5" y="430.8" width="3.7" height="23.4" fill="#00365f"/>
<rect x="875" y="352.1" width="3.7" height="102.1" fill="#24afbd"/>
<rect x="875" y="351.2" width="3.7" height="1.1" fill="#c9bf0b"/>
<rect x="875" y="423.8" width="3.7" height="30.4" fill="#00365f"/>
<rect x="880.5" y="308.2" width="3.7" height="146" fill="#24afbd"/>
<rect x="880.5" y="307.3" width="3.7" height="1.1" fill="#c9bf0b"/>
<rect x="880.5" y="407" width="3.7" height="47.2" fill="#00365f"/>
<rect x="886" y="299.4" width="3.7" height="154.8" fill="#24afbd"/>
<rect x="886" y="298.5" width="3.7" height="1.1" fill="#c9bf0b"/>
<rect x="886" y="404.2" width="3.7" height="50" fill="#00365f"/>
<rect x="891.5" y="303.7" width="3.7" height="150.5" fill="#24afbd"/>
<rect x="891.5" y="302.8" width="3.7" height="1.1" fill="#c9bf0b"/>
<rect x="891.5" y="395.7" width="3.7" height="58.5" fill="#00365f"/>
<rect x="897" y="309.1" width="3.7" height="145.1" fill="#24afbd"/>
<rect x="897" y="308.2" width="3.7" height="1.1" fill="#c9bf0b"/>
<rect x="897" y="398.6" width="3.7" height="55.6" fill="#00365f"/>
<rect x="902.5" y="309.1" width="3.7" height="145.1" fill="#24afbd"/>
<rect x="902.5" y="308.2" width="3.7" height="1.1" fill="#c9bf0b"/>
<rect x="902.5" y="401.1" width="3.7" height="53.1" fill="#00365f"/>
<rect x="908" y="300.7" width="3.7" height="153.5" fill="#24afbd"/>
<rect x="908" y="299.8" width="3.7" height="1.1" fill="#c9bf0b"/>
<rect x="908" y="393.1" width="3.7" height="61.1" fill="#00365f"/>
<rect x="913.5" y="294.7" width="3.7" height="159.5" fill="#24afbd"/>
<rect x="913.5" y="293.8" width="3.7" height="1.1" fill="#c9bf0b"/>
<rect x="913.5" y="398.2" width="3.7" height="56" fill="#00365f"/>
<rect x="919" y="281.6" width="3.7" height="172.6" fill="#24afbd"/>
<rect x="919" y="280.7" width="3.7" height="1.1" fill="#c9bf0b"/>
<rect x="919" y="402.5" width="3.7" height="51.7" fill="#00365f"/>
<rect x="924.5" y="248.4" width="3.7" height="205.8" fill="#24afbd"/>
<rect x="924.5" y="247.5" width="3.7" height="1.1" fill="#c9bf0b"/>
<rect x="924.5" y="380.2" width="3.7" height="74" fill="#00365f"/>
<rect x="929.9" y="233.6" width="3.7" height="220.6" fill="#24afbd"/>
<rect x="929.9" y="232.7" width="3.7" height="1.1" fill="#c9bf0b"/>
<rect x="929.9" y="361.7" width="3.7" height="92.5" fill="#00365f"/>
<rect x="935.4" y="224" width="3.7" height="230.2" fill="#24afbd"/>
<rect x="935.4" y="223.1" width="3.7" height="1.1" fill="#c9bf0b"/>
<rect x="935.4" y="361.7" width="3.7" height="92.5" fill="#00365f"/>
<rect x="940.9" y="126.7" width="3.7" height="327.5" fill="#24afbd"/>
<rect x="940.9" y="125.8" width="3.7" height="1.1" fill="#c9bf0b"/>
<rect x="940.9" y="287.9" width="3.7" height="166.3" fill="#00365f"/>
<rect x="946.4" y="187.7" width="3.7" height="266.5" fill="#24afbd"/>
<rect x="946.4" y="186.8" width="3.7" height="1.1" fill="#c9bf0b"/>
<rect x="946.4" y="346.1" width="3.7" height="108.1" fill="#00365f"/>
<rect x="951.9" y="228.8" width="3.7" height="225.4" fill="#24afbd"/>
<rect x="951.9" y="227.9" width="3.7" height="1.1" fill="#c9bf0b"/>
<rect x="951.9" y="349" width="3.7" height="105.2" fill="#00365f"/>
<rect x="957.4" y="207.4" width="3.7" height="246.8" fill="#24afbd"/>
<rect x="957.4" y="206.5" width="3.7" height="1.1" fill="#c9bf0b"/>
<rect x="957.4" y="321.8" width="3.7" height="132.4" fill="#00365f"/>
<text x="12.8" y="18.9" font-size="13.95" text-anchor="start" fill="#173f6b" font-weight="bold">1. Daily crypto-asset market value</text>
<text x="516.8" y="18.9" font-size="13.95" text-anchor="start" fill="#173f6b" font-weight="bold">2. Monthly transaction volumes, adjusted by Visa to remove automated</text>
<text x="532" y="37.8" font-size="13.95" text-anchor="start" fill="#173f6b" font-weight="bold">and duplicate activity</text>
<text x="499.2" y="67.7" font-size="13" text-anchor="end" fill="#454545" font-weight="normal" stroke="#454545" stroke-width="0.25">USD bn</text>
<text x="1001.8" y="67.2" font-size="13" text-anchor="end" fill="#454545" font-weight="normal" stroke="#454545" stroke-width="0.25">USD bn</text>
<text x="497.6" y="164.2" font-size="13" text-anchor="end" fill="#454545" font-weight="normal" stroke="#454545" stroke-width="0.25">4,000</text>
<text x="497.6" y="240.1" font-size="13" text-anchor="end" fill="#454545" font-weight="normal" stroke="#454545" stroke-width="0.25">3,000</text>
<text x="497.6" y="316.1" font-size="13" text-anchor="end" fill="#454545" font-weight="normal" stroke="#454545" stroke-width="0.25">2,000</text>
<text x="497.6" y="392.1" font-size="13" text-anchor="end" fill="#454545" font-weight="normal" stroke="#454545" stroke-width="0.25">1,000</text>
<text x="497.6" y="469.5" font-size="13" text-anchor="end" fill="#454545" font-weight="normal" stroke="#454545" stroke-width="0.25">0</text>
<text x="1001.7" y="141.6" font-size="13.3" text-anchor="end" fill="#454545" font-weight="normal" stroke="#454545" stroke-width="0.25">1,500</text>
<text x="1001.7" y="196" font-size="13.3" text-anchor="end" fill="#454545" font-weight="normal" stroke="#454545" stroke-width="0.25">1,250</text>
<text x="1001.7" y="250" font-size="13.3" text-anchor="end" fill="#454545" font-weight="normal" stroke="#454545" stroke-width="0.25">1,000</text>
<text x="1001.7" y="305.4" font-size="13.3" text-anchor="end" fill="#454545" font-weight="normal" stroke="#454545" stroke-width="0.25">750</text>
<text x="1001.7" y="359.6" font-size="13.3" text-anchor="end" fill="#454545" font-weight="normal" stroke="#454545" stroke-width="0.25">500</text>
<text x="1001.7" y="413.2" font-size="13.3" text-anchor="end" fill="#454545" font-weight="normal" stroke="#454545" stroke-width="0.25">250</text>
<text x="1001.7" y="467.6" font-size="13.3" text-anchor="end" fill="#454545" font-weight="normal" stroke="#454545" stroke-width="0.25">0</text>
<text x="12.8" y="469.4" font-size="12.6" text-anchor="start" fill="#454545" font-weight="normal" stroke="#454545" stroke-width="0.25">2021</text>
<text x="103.8" y="469.4" font-size="12.6" text-anchor="start" fill="#454545" font-weight="normal" stroke="#454545" stroke-width="0.25">2022</text>
<text x="193.2" y="469.4" font-size="12.6" text-anchor="start" fill="#454545" font-weight="normal" stroke="#454545" stroke-width="0.25">2024</text>
<text x="282.7" y="469.4" font-size="12.6" text-anchor="start" fill="#454545" font-weight="normal" stroke="#454545" stroke-width="0.25">2023</text>
<text x="372.1" y="469.4" font-size="12.6" text-anchor="start" fill="#454545" font-weight="normal" stroke="#454545" stroke-width="0.25">2025</text>
<text x="567.6" y="469.4" font-size="12.6" text-anchor="start" fill="#454545" font-weight="normal" stroke="#454545" stroke-width="0.25">2020</text>
<text x="633.8" y="469.4" font-size="12.6" text-anchor="start" fill="#454545" font-weight="normal" stroke="#454545" stroke-width="0.25">2021</text>
<text x="700.2" y="469.4" font-size="12.6" text-anchor="start" fill="#454545" font-weight="normal" stroke="#454545" stroke-width="0.25">2022</text>
<text x="766.6" y="469.4" font-size="12.6" text-anchor="start" fill="#454545" font-weight="normal" stroke="#454545" stroke-width="0.25">2024</text>
<text x="832.9" y="469.4" font-size="12.6" text-anchor="start" fill="#454545" font-weight="normal" stroke="#454545" stroke-width="0.25">2023</text>
<text x="899.3" y="469.4" font-size="12.6" text-anchor="start" fill="#454545" font-weight="normal" stroke="#454545" stroke-width="0.25">2025</text>
<rect x="12.6" y="475.3" width="17.4" height="17.4" fill="#00365f"/>
<text x="36.5" y="489.4" font-size="13.2" text-anchor="start" fill="#454545" font-weight="normal" stroke="#454545" stroke-width="0.25">Bitcoin</text>
<rect x="94.1" y="475.3" width="17.4" height="17.4" fill="#24afbd"/>
<text x="118.6" y="489.4" font-size="13.2" text-anchor="start" fill="#454545" font-weight="normal" stroke="#454545" stroke-width="0.25">Ether</text>
<rect x="169.3" y="475.3" width="17.4" height="17.4" fill="#c9bf0b"/>
<text x="193.9" y="489.4" font-size="13.2" text-anchor="start" fill="#454545" font-weight="normal" stroke="#454545" stroke-width="0.25">Binance coin</text>
<rect x="288.5" y="475.3" width="17.4" height="17.4" fill="#7b3a9a"/>
<text x="313.3" y="489.4" font-size="13.2" text-anchor="start" fill="#454545" font-weight="normal" stroke="#454545" stroke-width="0.25">Stablecoins</text>
<rect x="400.3" y="475.3" width="17.4" height="17.4" fill="#e9a838"/>
<text x="425.4" y="489.4" font-size="13.2" text-anchor="start" fill="#454545" font-weight="normal" stroke="#454545" stroke-width="0.25">Other</text>
<rect x="517.9" y="475.3" width="17.4" height="17.4" fill="#00365f"/>
<text x="541.6" y="489.4" font-size="13.2" text-anchor="start" fill="#454545" font-weight="normal" stroke="#454545" stroke-width="0.25">USDC</text>
<rect x="597.5" y="475.3" width="17.4" height="17.4" fill="#24afbd"/>
<text x="621.7" y="489.4" font-size="13.2" text-anchor="start" fill="#454545" font-weight="normal" stroke="#454545" stroke-width="0.25">USDT</text>
<rect x="676.1" y="475.3" width="17.4" height="17.4" fill="#c9bf0b"/>
<text x="701.7" y="489.4" font-size="13.2" text-anchor="start" fill="#454545" font-weight="normal" stroke="#454545" stroke-width="0.25">Other</text>
<text x="12.6" y="514.6" font-size="11.2" text-anchor="start" fill="#2a4f7c" font-weight="normal" stroke="#2a4f7c" stroke-width="0.25">Source: CCData, Visa; FSB calculations.</text>
</svg>
</body></html>
